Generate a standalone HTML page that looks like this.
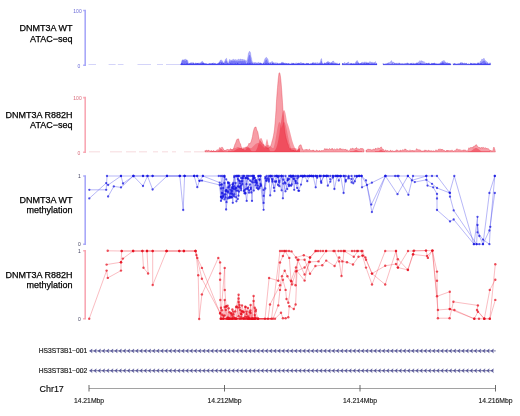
<!DOCTYPE html>
<html><head><meta charset="utf-8"><style>
html,body{margin:0;padding:0;background:#fff;}
svg{display:block;font-family:"Liberation Sans", sans-serif;filter:blur(0.4px);}
</style></head><body>
<svg width="520" height="416" viewBox="0 0 520 416">
<text x="72.5" y="31.1" text-anchor="end" font-size="9" fill="#000" stroke="#000" stroke-width="0.25">DNMT3A WT</text>
<text x="72.5" y="41.5" text-anchor="end" font-size="9" fill="#000" stroke="#000" stroke-width="0.25">ATAC−seq</text>
<text x="72.5" y="117.5" text-anchor="end" font-size="9" fill="#000" stroke="#000" stroke-width="0.25">DNMT3A R882H</text>
<text x="72.5" y="128.0" text-anchor="end" font-size="9" fill="#000" stroke="#000" stroke-width="0.25">ATAC−seq</text>
<text x="72.5" y="202.7" text-anchor="end" font-size="9" fill="#000" stroke="#000" stroke-width="0.25">DNMT3A WT</text>
<text x="72.5" y="212.8" text-anchor="end" font-size="9" fill="#000" stroke="#000" stroke-width="0.25">methylation</text>
<text x="72.5" y="277.8" text-anchor="end" font-size="9" fill="#000" stroke="#000" stroke-width="0.25">DNMT3A R882H</text>
<text x="72.5" y="288.3" text-anchor="end" font-size="9" fill="#000" stroke="#000" stroke-width="0.25">methylation</text>
<path d="M83.2,10.5 H85.2 V65.3 H83.2" stroke="#a8a8f8" stroke-width="1.6" fill="none"/>
<text x="81.7" y="13.1" text-anchor="end" font-size="5" fill="#6a6ad8">100</text>
<text x="80.2" y="67.89999999999999" text-anchor="end" font-size="5" fill="#6a6ad8">0</text>
<path d="M83.2,97.6 H85.2 V152.3 H83.2" stroke="#f8a8b4" stroke-width="1.6" fill="none"/>
<text x="81.7" y="100.19999999999999" text-anchor="end" font-size="5" fill="#d86a7a">100</text>
<text x="80.2" y="154.9" text-anchor="end" font-size="5" fill="#d86a7a">0</text>
<path d="M83.2,176 H85.2 V244.2 H83.2" stroke="#a8a8f8" stroke-width="1.6" fill="none"/>
<text x="80.9" y="177.8" text-anchor="end" font-size="5" fill="#404060">1</text>
<text x="80.9" y="246.0" text-anchor="end" font-size="5" fill="#404060">0</text>
<path d="M83.2,250.8 H85.2 V318.8 H83.2" stroke="#f8a8b4" stroke-width="1.6" fill="none"/>
<text x="80.9" y="252.60000000000002" text-anchor="end" font-size="5" fill="#404060">1</text>
<text x="80.9" y="320.6" text-anchor="end" font-size="5" fill="#404060">0</text>
<text x="87.3" y="353.2" text-anchor="end" font-size="6.7" fill="#222" stroke="#222" stroke-width="0.2">HS3ST3B1−001</text>
<line x1="89.6" y1="350.9" x2="495.8" y2="350.9" stroke="#404080" stroke-width="0.7"/>
<path d="M89.60,350.9 L92.20,349.0 L91.40,350.9 L92.20,352.79999999999995Z M93.78,350.9 L96.38,349.0 L95.58,350.9 L96.38,352.79999999999995Z M97.96,350.9 L100.56,349.0 L99.76,350.9 L100.56,352.79999999999995Z M102.14,350.9 L104.74,349.0 L103.94,350.9 L104.74,352.79999999999995Z M106.32,350.9 L108.92,349.0 L108.12,350.9 L108.92,352.79999999999995Z M110.50,350.9 L113.10,349.0 L112.30,350.9 L113.10,352.79999999999995Z M114.68,350.9 L117.28,349.0 L116.48,350.9 L117.28,352.79999999999995Z M118.86,350.9 L121.46,349.0 L120.66,350.9 L121.46,352.79999999999995Z M123.04,350.9 L125.64,349.0 L124.84,350.9 L125.64,352.79999999999995Z M127.22,350.9 L129.82,349.0 L129.02,350.9 L129.82,352.79999999999995Z M131.40,350.9 L134.00,349.0 L133.20,350.9 L134.00,352.79999999999995Z M135.58,350.9 L138.18,349.0 L137.38,350.9 L138.18,352.79999999999995Z M139.76,350.9 L142.36,349.0 L141.56,350.9 L142.36,352.79999999999995Z M143.94,350.9 L146.54,349.0 L145.74,350.9 L146.54,352.79999999999995Z M148.12,350.9 L150.72,349.0 L149.92,350.9 L150.72,352.79999999999995Z M152.30,350.9 L154.90,349.0 L154.10,350.9 L154.90,352.79999999999995Z M156.48,350.9 L159.08,349.0 L158.28,350.9 L159.08,352.79999999999995Z M160.66,350.9 L163.26,349.0 L162.46,350.9 L163.26,352.79999999999995Z M164.84,350.9 L167.44,349.0 L166.64,350.9 L167.44,352.79999999999995Z M169.02,350.9 L171.62,349.0 L170.82,350.9 L171.62,352.79999999999995Z M173.20,350.9 L175.80,349.0 L175.00,350.9 L175.80,352.79999999999995Z M177.38,350.9 L179.98,349.0 L179.18,350.9 L179.98,352.79999999999995Z M181.56,350.9 L184.16,349.0 L183.36,350.9 L184.16,352.79999999999995Z M185.74,350.9 L188.34,349.0 L187.54,350.9 L188.34,352.79999999999995Z M189.92,350.9 L192.52,349.0 L191.72,350.9 L192.52,352.79999999999995Z M194.10,350.9 L196.70,349.0 L195.90,350.9 L196.70,352.79999999999995Z M198.28,350.9 L200.88,349.0 L200.08,350.9 L200.88,352.79999999999995Z M202.46,350.9 L205.06,349.0 L204.26,350.9 L205.06,352.79999999999995Z M206.64,350.9 L209.24,349.0 L208.44,350.9 L209.24,352.79999999999995Z M210.82,350.9 L213.42,349.0 L212.62,350.9 L213.42,352.79999999999995Z M215.00,350.9 L217.60,349.0 L216.80,350.9 L217.60,352.79999999999995Z M219.18,350.9 L221.78,349.0 L220.98,350.9 L221.78,352.79999999999995Z M223.36,350.9 L225.96,349.0 L225.16,350.9 L225.96,352.79999999999995Z M227.54,350.9 L230.14,349.0 L229.34,350.9 L230.14,352.79999999999995Z M231.72,350.9 L234.32,349.0 L233.52,350.9 L234.32,352.79999999999995Z M235.90,350.9 L238.50,349.0 L237.70,350.9 L238.50,352.79999999999995Z M240.08,350.9 L242.68,349.0 L241.88,350.9 L242.68,352.79999999999995Z M244.26,350.9 L246.86,349.0 L246.06,350.9 L246.86,352.79999999999995Z M248.44,350.9 L251.04,349.0 L250.24,350.9 L251.04,352.79999999999995Z M252.62,350.9 L255.22,349.0 L254.42,350.9 L255.22,352.79999999999995Z M256.80,350.9 L259.40,349.0 L258.60,350.9 L259.40,352.79999999999995Z M260.98,350.9 L263.58,349.0 L262.78,350.9 L263.58,352.79999999999995Z M265.16,350.9 L267.76,349.0 L266.96,350.9 L267.76,352.79999999999995Z M269.34,350.9 L271.94,349.0 L271.14,350.9 L271.94,352.79999999999995Z M273.52,350.9 L276.12,349.0 L275.32,350.9 L276.12,352.79999999999995Z M277.70,350.9 L280.30,349.0 L279.50,350.9 L280.30,352.79999999999995Z M281.88,350.9 L284.48,349.0 L283.68,350.9 L284.48,352.79999999999995Z M286.06,350.9 L288.66,349.0 L287.86,350.9 L288.66,352.79999999999995Z M290.24,350.9 L292.84,349.0 L292.04,350.9 L292.84,352.79999999999995Z M294.42,350.9 L297.02,349.0 L296.22,350.9 L297.02,352.79999999999995Z M298.60,350.9 L301.20,349.0 L300.40,350.9 L301.20,352.79999999999995Z M302.78,350.9 L305.38,349.0 L304.58,350.9 L305.38,352.79999999999995Z M306.96,350.9 L309.56,349.0 L308.76,350.9 L309.56,352.79999999999995Z M311.14,350.9 L313.74,349.0 L312.94,350.9 L313.74,352.79999999999995Z M315.32,350.9 L317.92,349.0 L317.12,350.9 L317.92,352.79999999999995Z M319.50,350.9 L322.10,349.0 L321.30,350.9 L322.10,352.79999999999995Z M323.68,350.9 L326.28,349.0 L325.48,350.9 L326.28,352.79999999999995Z M327.86,350.9 L330.46,349.0 L329.66,350.9 L330.46,352.79999999999995Z M332.04,350.9 L334.64,349.0 L333.84,350.9 L334.64,352.79999999999995Z M336.22,350.9 L338.82,349.0 L338.02,350.9 L338.82,352.79999999999995Z M340.40,350.9 L343.00,349.0 L342.20,350.9 L343.00,352.79999999999995Z M344.58,350.9 L347.18,349.0 L346.38,350.9 L347.18,352.79999999999995Z M348.76,350.9 L351.36,349.0 L350.56,350.9 L351.36,352.79999999999995Z M352.94,350.9 L355.54,349.0 L354.74,350.9 L355.54,352.79999999999995Z M357.12,350.9 L359.72,349.0 L358.92,350.9 L359.72,352.79999999999995Z M361.30,350.9 L363.90,349.0 L363.10,350.9 L363.90,352.79999999999995Z M365.48,350.9 L368.08,349.0 L367.28,350.9 L368.08,352.79999999999995Z M369.66,350.9 L372.26,349.0 L371.46,350.9 L372.26,352.79999999999995Z M373.84,350.9 L376.44,349.0 L375.64,350.9 L376.44,352.79999999999995Z M378.02,350.9 L380.62,349.0 L379.82,350.9 L380.62,352.79999999999995Z M382.20,350.9 L384.80,349.0 L384.00,350.9 L384.80,352.79999999999995Z M386.38,350.9 L388.98,349.0 L388.18,350.9 L388.98,352.79999999999995Z M390.56,350.9 L393.16,349.0 L392.36,350.9 L393.16,352.79999999999995Z M394.74,350.9 L397.34,349.0 L396.54,350.9 L397.34,352.79999999999995Z M398.92,350.9 L401.52,349.0 L400.72,350.9 L401.52,352.79999999999995Z M403.10,350.9 L405.70,349.0 L404.90,350.9 L405.70,352.79999999999995Z M407.28,350.9 L409.88,349.0 L409.08,350.9 L409.88,352.79999999999995Z M411.46,350.9 L414.06,349.0 L413.26,350.9 L414.06,352.79999999999995Z M415.64,350.9 L418.24,349.0 L417.44,350.9 L418.24,352.79999999999995Z M419.82,350.9 L422.42,349.0 L421.62,350.9 L422.42,352.79999999999995Z M424.00,350.9 L426.60,349.0 L425.80,350.9 L426.60,352.79999999999995Z M428.18,350.9 L430.78,349.0 L429.98,350.9 L430.78,352.79999999999995Z M432.36,350.9 L434.96,349.0 L434.16,350.9 L434.96,352.79999999999995Z M436.54,350.9 L439.14,349.0 L438.34,350.9 L439.14,352.79999999999995Z M440.72,350.9 L443.32,349.0 L442.52,350.9 L443.32,352.79999999999995Z M444.90,350.9 L447.50,349.0 L446.70,350.9 L447.50,352.79999999999995Z M449.08,350.9 L451.68,349.0 L450.88,350.9 L451.68,352.79999999999995Z M453.26,350.9 L455.86,349.0 L455.06,350.9 L455.86,352.79999999999995Z M457.44,350.9 L460.04,349.0 L459.24,350.9 L460.04,352.79999999999995Z M461.62,350.9 L464.22,349.0 L463.42,350.9 L464.22,352.79999999999995Z M465.80,350.9 L468.40,349.0 L467.60,350.9 L468.40,352.79999999999995Z M469.98,350.9 L472.58,349.0 L471.78,350.9 L472.58,352.79999999999995Z M474.16,350.9 L476.76,349.0 L475.96,350.9 L476.76,352.79999999999995Z M478.34,350.9 L480.94,349.0 L480.14,350.9 L480.94,352.79999999999995Z M482.52,350.9 L485.12,349.0 L484.32,350.9 L485.12,352.79999999999995Z M486.70,350.9 L489.30,349.0 L488.50,350.9 L489.30,352.79999999999995Z M490.88,350.9 L493.48,349.0 L492.68,350.9 L493.48,352.79999999999995Z" stroke="#525294" stroke-width="0.4" fill="#525294"/>
<text x="87.3" y="373.0" text-anchor="end" font-size="6.7" fill="#222" stroke="#222" stroke-width="0.2">HS3ST3B1−002</text>
<line x1="89.6" y1="370.7" x2="493.5" y2="370.7" stroke="#404080" stroke-width="0.7"/>
<path d="M89.60,370.7 L92.20,368.8 L91.40,370.7 L92.20,372.59999999999997Z M93.78,370.7 L96.38,368.8 L95.58,370.7 L96.38,372.59999999999997Z M97.96,370.7 L100.56,368.8 L99.76,370.7 L100.56,372.59999999999997Z M102.14,370.7 L104.74,368.8 L103.94,370.7 L104.74,372.59999999999997Z M106.32,370.7 L108.92,368.8 L108.12,370.7 L108.92,372.59999999999997Z M110.50,370.7 L113.10,368.8 L112.30,370.7 L113.10,372.59999999999997Z M114.68,370.7 L117.28,368.8 L116.48,370.7 L117.28,372.59999999999997Z M118.86,370.7 L121.46,368.8 L120.66,370.7 L121.46,372.59999999999997Z M123.04,370.7 L125.64,368.8 L124.84,370.7 L125.64,372.59999999999997Z M127.22,370.7 L129.82,368.8 L129.02,370.7 L129.82,372.59999999999997Z M131.40,370.7 L134.00,368.8 L133.20,370.7 L134.00,372.59999999999997Z M135.58,370.7 L138.18,368.8 L137.38,370.7 L138.18,372.59999999999997Z M139.76,370.7 L142.36,368.8 L141.56,370.7 L142.36,372.59999999999997Z M143.94,370.7 L146.54,368.8 L145.74,370.7 L146.54,372.59999999999997Z M148.12,370.7 L150.72,368.8 L149.92,370.7 L150.72,372.59999999999997Z M152.30,370.7 L154.90,368.8 L154.10,370.7 L154.90,372.59999999999997Z M156.48,370.7 L159.08,368.8 L158.28,370.7 L159.08,372.59999999999997Z M160.66,370.7 L163.26,368.8 L162.46,370.7 L163.26,372.59999999999997Z M164.84,370.7 L167.44,368.8 L166.64,370.7 L167.44,372.59999999999997Z M169.02,370.7 L171.62,368.8 L170.82,370.7 L171.62,372.59999999999997Z M173.20,370.7 L175.80,368.8 L175.00,370.7 L175.80,372.59999999999997Z M177.38,370.7 L179.98,368.8 L179.18,370.7 L179.98,372.59999999999997Z M181.56,370.7 L184.16,368.8 L183.36,370.7 L184.16,372.59999999999997Z M185.74,370.7 L188.34,368.8 L187.54,370.7 L188.34,372.59999999999997Z M189.92,370.7 L192.52,368.8 L191.72,370.7 L192.52,372.59999999999997Z M194.10,370.7 L196.70,368.8 L195.90,370.7 L196.70,372.59999999999997Z M198.28,370.7 L200.88,368.8 L200.08,370.7 L200.88,372.59999999999997Z M202.46,370.7 L205.06,368.8 L204.26,370.7 L205.06,372.59999999999997Z M206.64,370.7 L209.24,368.8 L208.44,370.7 L209.24,372.59999999999997Z M210.82,370.7 L213.42,368.8 L212.62,370.7 L213.42,372.59999999999997Z M215.00,370.7 L217.60,368.8 L216.80,370.7 L217.60,372.59999999999997Z M219.18,370.7 L221.78,368.8 L220.98,370.7 L221.78,372.59999999999997Z M223.36,370.7 L225.96,368.8 L225.16,370.7 L225.96,372.59999999999997Z M227.54,370.7 L230.14,368.8 L229.34,370.7 L230.14,372.59999999999997Z M231.72,370.7 L234.32,368.8 L233.52,370.7 L234.32,372.59999999999997Z M235.90,370.7 L238.50,368.8 L237.70,370.7 L238.50,372.59999999999997Z M240.08,370.7 L242.68,368.8 L241.88,370.7 L242.68,372.59999999999997Z M244.26,370.7 L246.86,368.8 L246.06,370.7 L246.86,372.59999999999997Z M248.44,370.7 L251.04,368.8 L250.24,370.7 L251.04,372.59999999999997Z M252.62,370.7 L255.22,368.8 L254.42,370.7 L255.22,372.59999999999997Z M256.80,370.7 L259.40,368.8 L258.60,370.7 L259.40,372.59999999999997Z M260.98,370.7 L263.58,368.8 L262.78,370.7 L263.58,372.59999999999997Z M265.16,370.7 L267.76,368.8 L266.96,370.7 L267.76,372.59999999999997Z M269.34,370.7 L271.94,368.8 L271.14,370.7 L271.94,372.59999999999997Z M273.52,370.7 L276.12,368.8 L275.32,370.7 L276.12,372.59999999999997Z M277.70,370.7 L280.30,368.8 L279.50,370.7 L280.30,372.59999999999997Z M281.88,370.7 L284.48,368.8 L283.68,370.7 L284.48,372.59999999999997Z M286.06,370.7 L288.66,368.8 L287.86,370.7 L288.66,372.59999999999997Z M290.24,370.7 L292.84,368.8 L292.04,370.7 L292.84,372.59999999999997Z M294.42,370.7 L297.02,368.8 L296.22,370.7 L297.02,372.59999999999997Z M298.60,370.7 L301.20,368.8 L300.40,370.7 L301.20,372.59999999999997Z M302.78,370.7 L305.38,368.8 L304.58,370.7 L305.38,372.59999999999997Z M306.96,370.7 L309.56,368.8 L308.76,370.7 L309.56,372.59999999999997Z M311.14,370.7 L313.74,368.8 L312.94,370.7 L313.74,372.59999999999997Z M315.32,370.7 L317.92,368.8 L317.12,370.7 L317.92,372.59999999999997Z M319.50,370.7 L322.10,368.8 L321.30,370.7 L322.10,372.59999999999997Z M323.68,370.7 L326.28,368.8 L325.48,370.7 L326.28,372.59999999999997Z M327.86,370.7 L330.46,368.8 L329.66,370.7 L330.46,372.59999999999997Z M332.04,370.7 L334.64,368.8 L333.84,370.7 L334.64,372.59999999999997Z M336.22,370.7 L338.82,368.8 L338.02,370.7 L338.82,372.59999999999997Z M340.40,370.7 L343.00,368.8 L342.20,370.7 L343.00,372.59999999999997Z M344.58,370.7 L347.18,368.8 L346.38,370.7 L347.18,372.59999999999997Z M348.76,370.7 L351.36,368.8 L350.56,370.7 L351.36,372.59999999999997Z M352.94,370.7 L355.54,368.8 L354.74,370.7 L355.54,372.59999999999997Z M357.12,370.7 L359.72,368.8 L358.92,370.7 L359.72,372.59999999999997Z M361.30,370.7 L363.90,368.8 L363.10,370.7 L363.90,372.59999999999997Z M365.48,370.7 L368.08,368.8 L367.28,370.7 L368.08,372.59999999999997Z M369.66,370.7 L372.26,368.8 L371.46,370.7 L372.26,372.59999999999997Z M373.84,370.7 L376.44,368.8 L375.64,370.7 L376.44,372.59999999999997Z M378.02,370.7 L380.62,368.8 L379.82,370.7 L380.62,372.59999999999997Z M382.20,370.7 L384.80,368.8 L384.00,370.7 L384.80,372.59999999999997Z M386.38,370.7 L388.98,368.8 L388.18,370.7 L388.98,372.59999999999997Z M390.56,370.7 L393.16,368.8 L392.36,370.7 L393.16,372.59999999999997Z M394.74,370.7 L397.34,368.8 L396.54,370.7 L397.34,372.59999999999997Z M398.92,370.7 L401.52,368.8 L400.72,370.7 L401.52,372.59999999999997Z M403.10,370.7 L405.70,368.8 L404.90,370.7 L405.70,372.59999999999997Z M407.28,370.7 L409.88,368.8 L409.08,370.7 L409.88,372.59999999999997Z M411.46,370.7 L414.06,368.8 L413.26,370.7 L414.06,372.59999999999997Z M415.64,370.7 L418.24,368.8 L417.44,370.7 L418.24,372.59999999999997Z M419.82,370.7 L422.42,368.8 L421.62,370.7 L422.42,372.59999999999997Z M424.00,370.7 L426.60,368.8 L425.80,370.7 L426.60,372.59999999999997Z M428.18,370.7 L430.78,368.8 L429.98,370.7 L430.78,372.59999999999997Z M432.36,370.7 L434.96,368.8 L434.16,370.7 L434.96,372.59999999999997Z M436.54,370.7 L439.14,368.8 L438.34,370.7 L439.14,372.59999999999997Z M440.72,370.7 L443.32,368.8 L442.52,370.7 L443.32,372.59999999999997Z M444.90,370.7 L447.50,368.8 L446.70,370.7 L447.50,372.59999999999997Z M449.08,370.7 L451.68,368.8 L450.88,370.7 L451.68,372.59999999999997Z M453.26,370.7 L455.86,368.8 L455.06,370.7 L455.86,372.59999999999997Z M457.44,370.7 L460.04,368.8 L459.24,370.7 L460.04,372.59999999999997Z M461.62,370.7 L464.22,368.8 L463.42,370.7 L464.22,372.59999999999997Z M465.80,370.7 L468.40,368.8 L467.60,370.7 L468.40,372.59999999999997Z M469.98,370.7 L472.58,368.8 L471.78,370.7 L472.58,372.59999999999997Z M474.16,370.7 L476.76,368.8 L475.96,370.7 L476.76,372.59999999999997Z M478.34,370.7 L480.94,368.8 L480.14,370.7 L480.94,372.59999999999997Z M482.52,370.7 L485.12,368.8 L484.32,370.7 L485.12,372.59999999999997Z M486.70,370.7 L489.30,368.8 L488.50,370.7 L489.30,372.59999999999997Z M490.88,370.7 L493.48,368.8 L492.68,370.7 L493.48,372.59999999999997Z" stroke="#525294" stroke-width="0.4" fill="#525294"/>
<text x="39.6" y="391.6" font-size="9.6" textLength="24.2" lengthAdjust="spacingAndGlyphs" fill="#111" stroke="#111" stroke-width="0.2">Chr17</text>
<line x1="89" y1="388.5" x2="495.5" y2="388.5" stroke="#8a8a8a" stroke-width="0.8"/>
<line x1="89" y1="385" x2="89" y2="391.5" stroke="#505050" stroke-width="0.85"/>
<text x="89" y="403.2" text-anchor="middle" font-size="6.8" fill="#222" stroke="#222" stroke-width="0.15">14.21Mbp</text>
<line x1="224.5" y1="385" x2="224.5" y2="391.5" stroke="#505050" stroke-width="0.85"/>
<text x="224.5" y="403.2" text-anchor="middle" font-size="6.8" fill="#222" stroke="#222" stroke-width="0.15">14.212Mbp</text>
<line x1="360" y1="385" x2="360" y2="391.5" stroke="#505050" stroke-width="0.85"/>
<text x="360" y="403.2" text-anchor="middle" font-size="6.8" fill="#222" stroke="#222" stroke-width="0.15">14.214Mbp</text>
<line x1="495.5" y1="385" x2="495.5" y2="391.5" stroke="#505050" stroke-width="0.85"/>
<text x="495.5" y="403.2" text-anchor="middle" font-size="6.8" fill="#222" stroke="#222" stroke-width="0.15">14.216Mbp</text>
<path d="M88.5,65.10 L88.5,64.30 L89.0,64.30 L89.5,64.30 L90.0,64.30 L90.5,64.30 L91.0,64.30 L91.5,64.30 L92.0,64.30 L92.5,64.30 L93.0,64.30 L93.5,64.30 L94.0,64.30 L94.5,64.30 L95.0,64.30 L95.5,64.30 L96.0,64.30 L96.0,65.10Z M108.6,65.10 L108.6,64.30 L109.1,64.30 L109.6,64.30 L110.1,64.30 L110.6,64.30 L111.1,64.30 L111.6,64.30 L112.1,64.30 L112.6,64.30 L113.1,64.30 L113.6,64.30 L114.1,64.30 L114.6,64.30 L115.1,64.30 L115.6,64.30 L115.6,65.10Z M117.9,65.10 L117.9,64.30 L118.4,64.30 L118.9,64.30 L119.4,64.30 L119.9,64.30 L120.4,64.30 L120.9,64.30 L121.4,64.30 L121.9,64.30 L122.4,64.30 L122.9,64.30 L123.4,64.30 L123.6,65.10Z M137.5,65.10 L137.5,64.30 L138.0,64.30 L138.5,64.30 L139.0,64.30 L139.5,64.30 L140.0,64.30 L140.5,64.30 L141.0,64.30 L141.5,64.30 L142.0,64.30 L142.5,64.30 L143.0,64.30 L143.5,64.30 L144.0,64.30 L144.5,64.30 L145.0,64.30 L145.5,64.30 L146.0,64.30 L146.5,64.30 L147.0,64.30 L147.5,64.30 L148.0,64.30 L148.5,64.30 L149.0,64.30 L149.5,64.30 L150.0,64.30 L150.5,64.30 L151.0,64.30 L151.0,65.10Z M157.0,65.10 L157.0,64.30 L157.5,64.30 L158.0,64.30 L158.5,64.30 L159.0,64.30 L159.5,64.30 L160.0,64.30 L160.5,64.30 L161.0,64.30 L161.5,64.30 L162.0,64.30 L162.5,64.30 L163.0,64.30 L163.0,65.10Z M166.0,65.10 L166.0,64.30 L166.5,64.30 L167.0,64.30 L167.5,64.30 L168.0,64.30 L168.5,64.30 L169.0,64.30 L169.5,64.30 L170.0,64.30 L170.5,64.30 L171.0,64.30 L171.5,64.30 L172.0,64.30 L172.5,64.30 L173.0,64.30 L173.5,64.30 L174.0,64.30 L174.5,64.30 L175.0,64.30 L175.5,64.30 L176.0,64.30 L176.5,64.30 L177.0,64.30 L177.5,64.30 L178.0,64.30 L178.5,64.30 L179.0,64.30 L179.5,64.30 L180.0,64.30 L180.5,64.30 L181.0,64.30 L181.0,65.10Z" fill="rgb(120,120,235)" fill-opacity="0.42"/>
<path d="M181.0,64.90 L181.0,64.04 L181.5,62.73 L182.0,60.25 L182.5,60.20 L183.0,59.38 L183.5,60.20 L184.0,60.07 L184.5,59.55 L185.0,59.84 L185.5,58.89 L186.0,59.92 L186.5,60.02 L187.0,59.70 L187.5,60.22 L188.0,61.49 L188.5,64.07 L189.0,63.93 L189.5,63.31 L190.0,63.90 L190.5,63.14 L191.0,62.61 L191.5,63.53 L192.0,62.27 L192.5,63.27 L193.0,62.81 L193.5,63.49 L194.0,63.68 L194.5,63.94 L195.0,64.17 L195.5,64.23 L196.0,62.73 L196.5,63.84 L197.0,63.96 L197.5,63.00 L198.0,63.71 L198.5,62.77 L199.0,64.10 L199.5,64.23 L200.0,62.64 L200.5,63.52 L201.0,62.14 L201.5,62.25 L202.0,61.15 L202.5,61.39 L203.0,62.44 L203.5,63.56 L204.0,63.99 L204.5,63.94 L205.0,63.23 L205.5,64.29 L206.0,64.01 L206.5,64.29 L207.0,64.15 L207.5,64.30 L208.0,64.13 L208.5,63.86 L209.0,64.23 L209.5,63.20 L210.0,64.09 L210.5,63.95 L211.0,63.85 L211.5,63.65 L212.0,62.97 L212.5,63.71 L213.0,63.18 L213.5,62.66 L214.0,64.07 L214.5,63.00 L215.0,63.72 L215.5,63.41 L216.0,63.71 L216.5,64.03 L217.0,64.29 L217.5,64.00 L218.0,63.55 L218.5,63.02 L219.0,62.44 L219.5,61.81 L220.0,60.87 L220.5,60.07 L221.0,59.88 L221.5,59.88 L222.0,61.35 L222.5,60.80 L223.0,62.42 L223.5,63.06 L224.0,63.27 L224.5,61.60 L225.0,60.66 L225.5,59.32 L226.0,58.65 L226.5,58.32 L227.0,60.40 L227.5,61.88 L228.0,63.18 L228.5,63.43 L229.0,60.93 L229.5,59.57 L230.0,59.57 L230.5,60.15 L231.0,60.08 L231.5,60.24 L232.0,59.71 L232.5,59.72 L233.0,60.25 L233.5,59.18 L234.0,59.57 L234.5,60.32 L235.0,59.35 L235.5,59.67 L236.0,60.30 L236.5,60.26 L237.0,59.50 L237.5,60.39 L238.0,60.09 L238.5,58.91 L239.0,60.29 L239.5,59.99 L240.0,59.08 L240.5,59.18 L241.0,59.41 L241.5,59.95 L242.0,59.02 L242.5,60.29 L243.0,59.16 L243.5,60.13 L244.0,59.71 L244.5,59.80 L245.0,60.27 L245.5,60.19 L246.0,61.59 L246.5,61.10 L247.0,60.35 L247.5,58.64 L248.0,56.29 L248.5,52.95 L249.0,52.33 L249.5,51.19 L250.0,51.75 L250.5,52.72 L251.0,56.46 L251.5,58.24 L252.0,61.02 L252.5,62.00 L253.0,63.02 L253.5,63.00 L254.0,62.49 L254.5,63.40 L255.0,62.11 L255.5,62.94 L256.0,62.75 L256.5,62.91 L257.0,62.45 L257.5,62.93 L258.0,62.85 L258.5,62.41 L259.0,62.40 L259.5,63.44 L260.0,62.70 L260.5,63.57 L261.0,64.01 L261.5,63.35 L262.0,63.43 L262.5,63.95 L263.0,63.55 L263.5,62.66 L264.0,61.59 L264.5,59.98 L265.0,58.56 L265.5,58.22 L266.0,57.53 L266.5,57.44 L267.0,57.93 L267.5,58.70 L268.0,59.16 L268.5,61.71 L269.0,62.88 L269.5,63.29 L270.0,62.13 L270.5,62.79 L271.0,63.00 L271.5,62.04 L272.0,61.24 L272.5,61.72 L273.0,62.45 L273.5,62.68 L274.0,62.48 L274.5,62.93 L275.0,63.11 L275.5,63.03 L276.0,62.41 L276.5,63.00 L277.0,63.72 L277.5,62.73 L278.0,64.25 L278.5,64.20 L279.0,64.18 L279.5,63.78 L280.0,62.98 L280.5,63.86 L281.0,62.84 L281.5,62.36 L282.0,63.25 L282.5,62.21 L283.0,62.12 L283.5,62.96 L284.0,63.25 L284.5,63.31 L285.0,63.29 L285.5,63.15 L286.0,63.62 L286.5,63.60 L287.0,63.54 L287.5,63.91 L288.0,63.38 L288.5,63.78 L289.0,63.85 L289.5,63.66 L290.0,63.76 L290.5,64.03 L291.0,64.26 L291.5,63.75 L292.0,64.30 L292.5,64.30 L293.0,64.11 L293.5,64.22 L294.0,63.39 L294.5,64.26 L295.0,63.80 L295.5,62.98 L296.0,63.32 L296.5,62.72 L297.0,64.09 L297.5,64.12 L298.0,63.81 L298.5,63.48 L299.0,62.99 L299.5,63.29 L300.0,62.80 L300.5,62.56 L301.0,62.81 L301.5,62.63 L302.0,63.92 L302.5,63.43 L303.0,63.46 L303.5,63.21 L304.0,64.26 L304.5,64.29 L305.0,63.38 L305.5,63.63 L306.0,64.26 L306.5,63.09 L307.0,63.48 L307.5,63.69 L308.0,63.37 L308.5,63.70 L309.0,64.11 L309.5,64.30 L310.0,64.03 L310.5,63.48 L311.0,63.93 L311.5,63.83 L312.0,63.75 L312.5,63.27 L313.0,62.08 L313.5,62.65 L314.0,63.45 L314.5,63.18 L315.0,62.66 L315.5,63.40 L316.0,62.44 L316.5,63.41 L317.0,63.26 L317.5,62.66 L318.0,62.54 L318.5,63.87 L319.0,62.92 L319.5,62.88 L320.0,63.09 L320.5,61.27 L321.0,58.94 L321.5,58.59 L322.0,61.61 L322.5,63.77 L323.0,64.16 L323.5,64.26 L324.0,62.88 L324.5,63.01 L325.0,62.88 L325.5,63.39 L326.0,63.06 L326.5,62.34 L327.0,62.24 L327.5,61.79 L328.0,61.31 L328.5,61.83 L329.0,62.07 L329.5,62.46 L330.0,61.98 L330.5,63.52 L331.0,62.61 L331.5,62.48 L332.0,62.02 L332.5,61.29 L333.0,61.90 L333.5,60.87 L334.0,62.36 L334.5,62.82 L335.0,63.25 L335.5,62.85 L336.0,64.22 L336.5,63.86 L337.0,62.73 L337.5,64.23 L338.0,63.63 L338.5,64.26 L339.0,63.79 L339.5,64.00 L340.0,63.79 L340.0,64.90Z M342.0,64.90 L342.0,64.30 L342.5,64.23 L343.0,62.99 L343.5,64.09 L344.0,63.85 L344.5,62.27 L345.0,63.60 L345.5,63.04 L346.0,63.18 L346.5,63.42 L347.0,62.74 L347.5,63.02 L348.0,62.08 L348.5,62.05 L349.0,63.69 L349.5,63.29 L350.0,63.80 L350.5,64.11 L351.0,62.94 L351.5,64.29 L352.0,63.90 L352.5,64.21 L353.0,63.77 L353.5,64.23 L354.0,63.13 L354.5,64.00 L355.0,63.96 L355.5,62.27 L356.0,62.40 L356.5,60.82 L357.0,61.30 L357.5,60.56 L358.0,62.32 L358.5,62.62 L359.0,63.30 L359.5,63.89 L360.0,63.09 L360.5,63.71 L361.0,63.48 L361.5,62.52 L362.0,61.94 L362.5,62.42 L363.0,62.26 L363.5,62.69 L364.0,62.60 L364.5,61.76 L365.0,62.52 L365.5,62.64 L366.0,61.69 L366.5,62.70 L367.0,62.70 L367.5,62.69 L368.0,62.64 L368.5,62.70 L369.0,62.56 L369.5,62.58 L370.0,61.34 L370.5,62.60 L371.0,62.17 L371.5,62.56 L372.0,61.86 L372.5,62.68 L373.0,62.51 L373.5,62.67 L374.0,62.55 L374.5,62.59 L375.0,62.37 L375.5,61.53 L376.0,63.56 L376.5,64.10 L377.0,63.71 L377.0,64.90Z M383.0,64.90 L383.0,63.18 L383.5,64.07 L384.0,64.09 L384.5,64.14 L385.0,64.07 L385.5,63.84 L386.0,63.33 L386.5,64.30 L387.0,64.25 L387.5,64.17 L388.0,63.31 L388.5,62.60 L389.0,63.07 L389.5,62.64 L390.0,62.23 L390.5,61.69 L391.0,61.13 L391.5,60.48 L392.0,62.03 L392.5,62.35 L393.0,61.85 L393.5,62.58 L394.0,62.62 L394.5,64.14 L395.0,63.49 L395.5,63.25 L396.0,64.17 L396.5,64.12 L397.0,62.76 L397.5,64.00 L398.0,63.85 L398.5,63.95 L399.0,62.70 L399.5,63.29 L400.0,63.81 L400.5,63.59 L401.0,63.61 L401.5,63.97 L402.0,63.13 L402.5,64.07 L403.0,63.91 L403.5,63.35 L404.0,64.17 L404.5,63.36 L405.0,63.00 L405.5,63.51 L406.0,64.01 L406.5,62.92 L407.0,64.14 L407.5,62.71 L408.0,63.71 L408.5,63.84 L409.0,63.08 L409.5,64.28 L410.0,64.17 L410.5,63.34 L411.0,64.29 L411.5,62.93 L412.0,63.97 L412.5,63.92 L413.0,62.71 L413.5,64.29 L414.0,64.30 L414.5,63.79 L415.0,63.66 L415.5,63.11 L416.0,64.09 L416.5,62.68 L417.0,62.97 L417.5,62.85 L418.0,63.08 L418.5,61.76 L419.0,62.42 L419.5,61.54 L420.0,60.48 L420.5,61.94 L421.0,61.60 L421.5,60.53 L422.0,61.93 L422.5,61.13 L423.0,61.42 L423.5,62.02 L424.0,61.49 L424.5,62.58 L425.0,63.65 L425.5,62.79 L426.0,63.25 L426.5,64.06 L427.0,64.29 L427.5,64.18 L428.0,63.86 L428.5,64.20 L429.0,62.74 L429.5,64.26 L430.0,64.18 L430.5,64.28 L431.0,63.40 L431.5,63.20 L432.0,64.20 L432.5,64.06 L433.0,63.04 L433.5,63.73 L434.0,64.22 L434.5,62.71 L435.0,63.35 L435.5,64.15 L436.0,63.98 L436.5,63.90 L437.0,63.66 L437.5,63.96 L438.0,64.26 L438.5,64.13 L439.0,64.23 L439.5,63.58 L440.0,63.06 L440.5,62.70 L441.0,62.85 L441.5,61.95 L442.0,61.07 L442.5,61.20 L443.0,61.32 L443.5,60.42 L444.0,61.19 L444.5,60.61 L445.0,61.91 L445.5,62.27 L446.0,62.36 L446.5,63.10 L447.0,63.45 L447.5,62.47 L448.0,63.19 L448.5,64.16 L449.0,64.28 L449.5,63.44 L450.0,63.50 L450.5,64.25 L451.0,63.81 L451.0,64.90Z M453.0,64.90 L453.0,63.64 L453.5,64.29 L454.0,64.28 L454.5,64.30 L455.0,63.17 L455.5,64.09 L456.0,63.99 L456.5,64.11 L457.0,63.39 L457.5,63.92 L458.0,63.51 L458.5,63.75 L459.0,63.73 L459.5,63.90 L460.0,63.73 L460.5,62.57 L461.0,62.50 L461.5,62.61 L462.0,62.82 L462.5,62.97 L463.0,63.43 L463.5,63.53 L464.0,63.35 L464.5,62.76 L465.0,63.71 L465.5,63.80 L466.0,63.45 L466.5,63.16 L467.0,63.84 L467.5,64.30 L468.0,63.71 L468.5,64.11 L469.0,64.27 L469.5,64.30 L470.0,63.84 L470.5,62.84 L471.0,63.80 L471.5,63.19 L472.0,64.25 L472.5,64.13 L473.0,62.84 L473.5,63.54 L474.0,63.46 L474.5,64.16 L475.0,63.59 L475.5,64.11 L476.0,64.24 L476.5,64.26 L477.0,64.25 L477.5,64.29 L478.0,64.06 L478.5,63.01 L479.0,63.41 L479.5,63.24 L480.0,62.29 L480.5,60.99 L481.0,61.59 L481.5,59.69 L482.0,58.88 L482.5,59.71 L483.0,59.55 L483.5,58.66 L484.0,58.12 L484.5,59.53 L485.0,60.04 L485.5,60.69 L486.0,61.41 L486.5,61.39 L487.0,62.58 L487.5,61.88 L488.0,63.47 L488.5,64.07 L489.0,63.59 L489.5,62.76 L490.0,64.27 L490.5,62.79 L490.6,64.90Z" fill="rgb(40,40,240)" fill-opacity="0.36" stroke="rgb(60,60,230)" stroke-opacity="0.35" stroke-width="0.6"/>
<path d="M181.0,64.90 L181.0,63.40 L181.5,63.16 L182.0,62.67 L182.5,63.62 L183.0,63.64 L183.5,64.07 L184.0,63.83 L184.5,63.61 L185.0,63.99 L185.5,63.80 L186.0,63.86 L186.5,62.98 L187.0,63.91 L187.5,62.81 L188.0,64.02 L188.5,63.42 L189.0,63.70 L189.5,63.95 L190.0,63.13 L190.5,62.54 L191.0,64.07 L191.5,63.05 L192.0,64.09 L192.5,63.90 L193.0,62.63 L193.5,62.61 L194.0,62.73 L194.5,63.90 L195.0,63.22 L195.5,62.57 L196.0,64.09 L196.5,63.00 L197.0,63.26 L197.5,62.71 L198.0,63.77 L198.5,63.44 L199.0,63.17 L199.5,63.71 L200.0,63.27 L200.5,64.02 L201.0,64.10 L201.5,64.02 L202.0,62.55 L202.5,63.80 L203.0,62.84 L203.5,62.59 L204.0,62.76 L204.5,63.62 L205.0,63.97 L205.5,63.51 L206.0,63.15 L206.5,63.27 L207.0,64.10 L207.5,64.09 L208.0,64.10 L208.5,64.00 L209.0,63.85 L209.5,63.88 L210.0,63.18 L210.5,63.17 L211.0,63.97 L211.5,63.91 L212.0,62.83 L212.5,63.34 L213.0,64.10 L213.5,63.93 L214.0,63.02 L214.5,63.64 L215.0,64.04 L215.5,63.82 L216.0,63.37 L216.5,64.05 L217.0,64.00 L217.5,62.97 L218.0,63.86 L218.5,63.83 L219.0,62.53 L219.5,62.63 L220.0,63.95 L220.5,64.10 L221.0,64.05 L221.5,62.58 L222.0,63.31 L222.5,64.01 L223.0,62.79 L223.5,62.87 L224.0,63.29 L224.5,64.10 L225.0,63.65 L225.5,64.02 L226.0,64.00 L226.5,63.85 L227.0,63.84 L227.5,62.85 L228.0,63.88 L228.5,64.06 L229.0,64.06 L229.5,63.76 L230.0,63.98 L230.5,62.97 L231.0,63.47 L231.5,63.24 L232.0,64.05 L232.5,63.59 L233.0,63.34 L233.5,64.10 L234.0,63.85 L234.5,63.39 L235.0,64.06 L235.5,62.63 L236.0,64.03 L236.5,64.08 L237.0,63.34 L237.5,62.55 L238.0,63.14 L238.5,63.65 L239.0,63.93 L239.5,64.03 L240.0,64.09 L240.5,64.02 L241.0,63.47 L241.5,64.00 L242.0,62.54 L242.5,64.06 L243.0,64.00 L243.5,63.83 L244.0,62.64 L244.5,63.91 L245.0,64.05 L245.5,63.26 L246.0,64.09 L246.5,63.75 L247.0,64.03 L247.5,62.58 L248.0,63.79 L248.5,63.69 L249.0,62.64 L249.5,63.42 L250.0,62.52 L250.5,63.81 L251.0,62.88 L251.5,63.80 L252.0,63.98 L252.5,62.62 L253.0,63.48 L253.5,64.07 L254.0,63.58 L254.5,63.34 L255.0,64.07 L255.5,63.73 L256.0,63.78 L256.5,64.05 L257.0,63.35 L257.5,63.72 L258.0,63.53 L258.5,63.64 L259.0,63.50 L259.5,63.13 L260.0,63.73 L260.5,62.61 L261.0,62.80 L261.5,63.77 L262.0,64.08 L262.5,63.72 L263.0,63.87 L263.5,62.84 L264.0,63.94 L264.5,64.09 L265.0,64.04 L265.5,62.87 L266.0,64.08 L266.5,62.78 L267.0,63.80 L267.5,63.63 L268.0,63.19 L268.5,62.90 L269.0,64.08 L269.5,63.55 L270.0,64.04 L270.5,62.64 L271.0,63.15 L271.5,64.00 L272.0,63.91 L272.5,62.58 L273.0,62.63 L273.5,63.16 L274.0,64.10 L274.5,64.02 L275.0,63.52 L275.5,64.03 L276.0,63.67 L276.5,64.10 L277.0,63.76 L277.5,63.74 L278.0,63.00 L278.5,63.91 L279.0,62.80 L279.5,64.00 L280.0,64.10 L280.5,63.77 L281.0,64.06 L281.5,62.64 L282.0,63.02 L282.5,62.70 L283.0,64.03 L283.5,62.88 L284.0,62.76 L284.5,63.97 L285.0,63.04 L285.5,63.88 L286.0,64.04 L286.5,63.37 L287.0,63.92 L287.5,63.95 L288.0,63.44 L288.5,63.43 L289.0,64.10 L289.5,64.10 L290.0,63.64 L290.5,64.09 L291.0,64.08 L291.5,62.70 L292.0,62.65 L292.5,63.29 L293.0,62.73 L293.5,63.34 L294.0,62.73 L294.5,64.10 L295.0,63.88 L295.5,63.89 L296.0,63.92 L296.5,63.98 L297.0,63.94 L297.5,63.22 L298.0,62.66 L298.5,62.74 L299.0,63.86 L299.5,63.52 L300.0,64.01 L300.5,63.95 L301.0,62.77 L301.5,63.64 L302.0,64.09 L302.5,63.73 L303.0,63.10 L303.5,63.36 L304.0,64.08 L304.5,63.86 L305.0,63.94 L305.5,64.02 L306.0,64.00 L306.5,62.98 L307.0,63.61 L307.5,63.07 L308.0,63.85 L308.5,62.97 L309.0,64.10 L309.5,63.91 L310.0,64.04 L310.5,63.98 L311.0,63.24 L311.5,64.05 L312.0,62.87 L312.5,63.56 L313.0,62.87 L313.5,64.10 L314.0,64.09 L314.5,64.10 L315.0,62.54 L315.5,63.75 L316.0,64.09 L316.5,63.97 L317.0,63.90 L317.5,63.99 L318.0,63.94 L318.5,64.01 L319.0,64.00 L319.5,63.80 L320.0,64.08 L320.5,63.53 L321.0,63.06 L321.5,64.05 L322.0,63.45 L322.5,63.35 L323.0,63.94 L323.5,63.86 L324.0,64.07 L324.5,63.49 L325.0,62.57 L325.5,63.13 L326.0,64.03 L326.5,63.81 L327.0,63.68 L327.5,63.97 L328.0,62.62 L328.5,62.87 L329.0,63.78 L329.5,64.02 L330.0,63.19 L330.5,63.67 L331.0,63.28 L331.5,62.88 L332.0,62.59 L332.5,63.11 L333.0,64.03 L333.5,63.61 L334.0,63.28 L334.5,64.05 L335.0,62.53 L335.5,63.98 L336.0,62.95 L336.5,64.10 L337.0,64.09 L337.5,64.10 L338.0,64.09 L338.5,64.09 L339.0,64.09 L339.5,63.26 L340.0,62.74 L340.0,64.90Z M342.0,64.90 L342.0,63.08 L342.5,63.03 L343.0,63.13 L343.5,64.05 L344.0,63.86 L344.5,64.10 L345.0,64.05 L345.5,64.04 L346.0,63.76 L346.5,62.74 L347.0,63.90 L347.5,63.34 L348.0,63.40 L348.5,63.95 L349.0,64.10 L349.5,64.03 L350.0,64.04 L350.5,63.68 L351.0,63.94 L351.5,63.42 L352.0,63.50 L352.5,64.08 L353.0,62.92 L353.5,63.82 L354.0,64.03 L354.5,64.10 L355.0,63.73 L355.5,64.08 L356.0,63.19 L356.5,64.03 L357.0,64.05 L357.5,63.81 L358.0,64.09 L358.5,62.78 L359.0,62.93 L359.5,64.09 L360.0,64.01 L360.5,62.99 L361.0,63.16 L361.5,63.64 L362.0,63.37 L362.5,63.79 L363.0,63.51 L363.5,63.49 L364.0,63.21 L364.5,62.59 L365.0,63.67 L365.5,64.07 L366.0,63.15 L366.5,62.58 L367.0,63.64 L367.5,62.70 L368.0,63.20 L368.5,63.20 L369.0,63.09 L369.5,63.51 L370.0,64.08 L370.5,64.07 L371.0,62.89 L371.5,63.44 L372.0,64.05 L372.5,64.01 L373.0,62.88 L373.5,64.07 L374.0,63.55 L374.5,63.17 L375.0,63.96 L375.5,64.10 L376.0,63.86 L376.5,63.38 L377.0,62.87 L377.0,64.90Z M383.0,64.90 L383.0,63.53 L383.5,64.09 L384.0,64.04 L384.5,63.69 L385.0,64.00 L385.5,64.07 L386.0,64.06 L386.5,63.13 L387.0,63.91 L387.5,62.94 L388.0,62.64 L388.5,63.91 L389.0,63.37 L389.5,64.03 L390.0,63.98 L390.5,64.02 L391.0,63.69 L391.5,64.08 L392.0,63.06 L392.5,63.32 L393.0,64.07 L393.5,63.98 L394.0,63.99 L394.5,62.67 L395.0,62.80 L395.5,64.03 L396.0,63.48 L396.5,63.20 L397.0,63.66 L397.5,63.97 L398.0,62.94 L398.5,64.10 L399.0,62.70 L399.5,63.19 L400.0,63.48 L400.5,63.98 L401.0,64.09 L401.5,63.86 L402.0,63.68 L402.5,63.57 L403.0,64.05 L403.5,63.88 L404.0,64.06 L404.5,64.10 L405.0,63.68 L405.5,63.73 L406.0,63.51 L406.5,63.80 L407.0,63.39 L407.5,62.68 L408.0,63.85 L408.5,63.55 L409.0,63.67 L409.5,63.72 L410.0,64.10 L410.5,64.09 L411.0,63.56 L411.5,63.55 L412.0,63.88 L412.5,63.91 L413.0,64.08 L413.5,63.37 L414.0,63.44 L414.5,64.08 L415.0,64.06 L415.5,64.00 L416.0,63.97 L416.5,63.59 L417.0,63.08 L417.5,63.59 L418.0,63.10 L418.5,63.95 L419.0,63.87 L419.5,63.38 L420.0,62.97 L420.5,62.76 L421.0,63.27 L421.5,64.05 L422.0,63.54 L422.5,64.09 L423.0,64.05 L423.5,63.79 L424.0,63.48 L424.5,64.03 L425.0,63.81 L425.5,63.96 L426.0,64.08 L426.5,62.83 L427.0,63.00 L427.5,63.11 L428.0,64.07 L428.5,63.01 L429.0,62.72 L429.5,64.09 L430.0,64.00 L430.5,63.96 L431.0,64.04 L431.5,63.60 L432.0,63.24 L432.5,63.55 L433.0,62.81 L433.5,63.52 L434.0,63.24 L434.5,63.78 L435.0,63.22 L435.5,64.07 L436.0,63.76 L436.5,64.00 L437.0,63.88 L437.5,63.87 L438.0,64.09 L438.5,63.68 L439.0,64.03 L439.5,63.67 L440.0,63.64 L440.5,63.79 L441.0,62.87 L441.5,63.65 L442.0,63.37 L442.5,62.70 L443.0,63.79 L443.5,62.91 L444.0,63.83 L444.5,64.10 L445.0,64.02 L445.5,64.00 L446.0,63.43 L446.5,64.05 L447.0,63.43 L447.5,63.94 L448.0,63.42 L448.5,62.78 L449.0,63.41 L449.5,63.32 L450.0,63.55 L450.5,63.58 L451.0,63.73 L451.0,64.90Z M453.0,64.90 L453.0,63.19 L453.5,63.83 L454.0,63.84 L454.5,63.06 L455.0,63.21 L455.5,64.10 L456.0,63.94 L456.5,63.94 L457.0,63.98 L457.5,64.08 L458.0,63.74 L458.5,63.76 L459.0,63.48 L459.5,63.86 L460.0,63.11 L460.5,63.22 L461.0,62.71 L461.5,64.10 L462.0,63.01 L462.5,62.60 L463.0,63.68 L463.5,63.66 L464.0,62.78 L464.5,63.94 L465.0,63.02 L465.5,63.76 L466.0,62.94 L466.5,63.23 L467.0,63.74 L467.5,64.06 L468.0,63.97 L468.5,63.46 L469.0,63.93 L469.5,64.04 L470.0,63.98 L470.5,63.73 L471.0,63.56 L471.5,63.25 L472.0,64.10 L472.5,63.53 L473.0,64.09 L473.5,63.65 L474.0,64.02 L474.5,63.28 L475.0,63.74 L475.5,64.08 L476.0,63.70 L476.5,63.77 L477.0,63.29 L477.5,62.81 L478.0,62.50 L478.5,62.60 L479.0,64.09 L479.5,63.65 L480.0,63.85 L480.5,63.04 L481.0,64.00 L481.5,62.75 L482.0,64.07 L482.5,64.07 L483.0,63.99 L483.5,63.91 L484.0,63.05 L484.5,63.87 L485.0,63.59 L485.5,62.93 L486.0,64.09 L486.5,63.70 L487.0,63.45 L487.5,63.27 L488.0,64.10 L488.5,63.88 L489.0,63.43 L489.5,64.07 L490.0,64.10 L490.5,63.09 L490.6,64.90Z" fill="rgb(30,30,230)" fill-opacity="0.55"/>
<path d="M180.0,64.90 L180.0,63.88 L180.5,63.64 L181.0,63.78 L181.5,62.28 L182.0,60.19 L182.5,60.29 L183.0,60.38 L183.5,60.19 L184.0,60.14 L184.5,60.31 L185.0,60.90 L185.5,60.57 L186.0,60.87 L186.5,60.09 L187.0,60.32 L187.5,61.82 L188.0,63.60 L188.5,63.74 L189.0,63.79 L189.5,63.02 L190.0,63.11 L190.5,63.88 L191.0,63.89 L191.5,63.47 L192.0,63.82 L192.5,63.62 L193.0,63.52 L193.5,63.71 L194.0,63.89 L194.5,63.65 L195.0,63.08 L195.5,63.69 L196.0,63.88 L196.5,63.88 L197.0,62.97 L197.5,63.43 L198.0,63.79 L198.5,63.64 L199.0,63.12 L199.5,63.72 L200.0,63.85 L200.5,62.99 L201.0,62.95 L201.5,62.77 L202.0,62.87 L202.5,62.60 L203.0,63.00 L203.5,63.61 L204.0,62.90 L204.5,63.66 L205.0,63.50 L205.5,63.54 L206.0,63.87 L206.5,63.90 L207.0,63.13 L207.5,63.78 L208.0,63.70 L208.5,63.85 L209.0,63.55 L209.5,63.34 L210.0,63.75 L210.5,63.70 L211.0,63.86 L211.5,63.54 L212.0,63.80 L212.5,63.28 L213.0,63.15 L213.5,63.90 L214.0,63.55 L214.5,63.78 L215.0,63.84 L215.5,63.84 L216.0,63.81 L216.5,63.89 L217.0,63.88 L217.5,63.90 L218.0,63.79 L218.5,62.67 L219.0,62.97 L219.5,61.92 L220.0,62.22 L220.5,61.48 L221.0,60.99 L221.5,61.95 L222.0,61.91 L222.5,62.11 L223.0,63.08 L223.5,63.53 L224.0,63.71 L224.5,63.00 L225.0,61.94 L225.5,60.94 L226.0,60.29 L226.5,61.17 L227.0,61.37 L227.5,62.99 L228.0,63.45 L228.5,62.97 L229.0,62.77 L229.5,60.91 L230.0,61.40 L230.5,61.39 L231.0,61.03 L231.5,61.03 L232.0,60.56 L232.5,60.96 L233.0,61.37 L233.5,61.11 L234.0,60.46 L234.5,60.72 L235.0,60.89 L235.5,61.34 L236.0,61.21 L236.5,61.06 L237.0,61.38 L237.5,61.24 L238.0,61.20 L238.5,61.25 L239.0,60.80 L239.5,61.33 L240.0,61.16 L240.5,60.51 L241.0,61.04 L241.5,61.13 L242.0,60.87 L242.5,60.91 L243.0,61.10 L243.5,61.26 L244.0,61.06 L244.5,60.54 L245.0,61.23 L245.5,61.37 L246.0,62.71 L246.5,63.49 L247.0,63.24 L247.5,61.74 L248.0,59.72 L248.5,57.43 L249.0,55.60 L249.5,54.90 L250.0,54.70 L250.5,57.01 L251.0,59.72 L251.5,61.64 L252.0,62.62 L252.5,63.89 L253.0,63.87 L253.5,63.89 L254.0,63.69 L254.5,63.69 L255.0,63.90 L255.5,63.58 L256.0,63.56 L256.5,63.43 L257.0,63.53 L257.5,63.90 L258.0,63.90 L258.5,63.66 L259.0,63.85 L259.5,63.81 L260.0,63.43 L260.5,63.41 L261.0,63.79 L261.5,63.22 L262.0,63.89 L262.5,63.89 L263.0,63.87 L263.5,63.11 L264.0,63.30 L264.5,62.28 L265.0,61.65 L265.5,60.35 L266.0,59.27 L266.5,59.69 L267.0,59.98 L267.5,61.32 L268.0,62.42 L268.5,62.76 L269.0,63.31 L269.5,63.90 L270.0,63.79 L270.5,63.89 L271.0,63.86 L271.5,63.77 L272.0,63.81 L272.5,63.07 L273.0,63.11 L273.5,63.51 L274.0,63.79 L274.5,63.75 L275.0,63.12 L275.5,63.89 L276.0,63.74 L276.5,63.89 L277.0,63.52 L277.5,63.65 L278.0,63.59 L278.5,63.89 L279.0,63.77 L279.5,63.87 L280.0,63.02 L280.5,63.68 L281.0,63.90 L281.5,63.87 L282.0,63.68 L282.5,63.80 L283.0,63.53 L283.5,63.04 L284.0,63.71 L284.5,63.56 L285.0,63.83 L285.5,63.16 L286.0,63.56 L286.5,62.92 L287.0,63.66 L287.5,63.06 L288.0,63.87 L288.5,63.09 L289.0,63.61 L289.5,63.89 L290.0,63.54 L290.5,63.80 L291.0,63.90 L291.5,63.90 L292.0,63.90 L292.5,63.72 L293.0,63.22 L293.5,63.54 L294.0,63.47 L294.5,63.88 L295.0,63.50 L295.5,63.71 L296.0,63.88 L296.5,63.70 L297.0,63.20 L297.5,63.45 L298.0,63.28 L298.5,63.90 L299.0,63.83 L299.5,62.90 L300.0,63.90 L300.5,63.87 L301.0,63.74 L301.5,63.90 L302.0,63.85 L302.5,63.09 L303.0,63.49 L303.5,63.46 L304.0,63.34 L304.5,63.14 L305.0,63.89 L305.5,63.83 L306.0,63.90 L306.5,63.79 L307.0,63.45 L307.5,63.77 L308.0,63.53 L308.5,62.90 L309.0,63.70 L309.5,63.55 L310.0,63.60 L310.5,63.69 L311.0,63.89 L311.5,63.75 L312.0,63.25 L312.5,63.34 L313.0,63.13 L313.5,63.10 L314.0,63.18 L314.5,63.75 L315.0,62.93 L315.5,63.78 L316.0,63.79 L316.5,63.87 L317.0,63.84 L317.5,63.42 L318.0,63.29 L318.5,63.90 L319.0,63.27 L319.5,63.04 L320.0,63.59 L320.5,63.24 L321.0,61.09 L321.5,61.02 L322.0,62.52 L322.5,63.90 L323.0,63.90 L323.5,63.76 L324.0,63.82 L324.5,63.31 L325.0,63.90 L325.5,63.88 L326.0,63.26 L326.5,62.89 L327.0,62.24 L327.5,62.50 L328.0,62.86 L328.5,62.88 L329.0,62.58 L329.5,63.13 L330.0,63.69 L330.5,63.59 L331.0,63.73 L331.5,63.40 L332.0,63.90 L332.5,63.59 L333.0,63.06 L333.5,63.61 L334.0,63.74 L334.5,63.86 L335.0,63.88 L335.5,63.71 L336.0,63.73 L336.5,63.57 L337.0,63.89 L337.5,63.78 L338.0,63.20 L338.5,63.89 L339.0,63.85 L339.5,63.20 L340.0,63.84 L340.0,64.90Z M350.0,64.90 L350.0,63.75 L350.5,63.53 L351.0,63.05 L351.5,63.08 L352.0,63.72 L352.5,63.65 L353.0,63.62 L353.5,63.81 L354.0,63.41 L354.5,63.90 L355.0,63.47 L355.5,63.75 L356.0,63.03 L356.5,62.51 L357.0,61.81 L357.5,62.57 L358.0,62.97 L358.5,63.55 L359.0,63.90 L359.5,63.48 L360.0,63.87 L360.5,63.89 L361.0,62.97 L361.5,63.04 L362.0,63.66 L362.5,63.84 L363.0,63.71 L363.5,63.65 L364.0,63.27 L364.5,63.84 L365.0,63.88 L365.5,63.08 L366.0,63.14 L366.5,63.27 L367.0,63.43 L367.5,63.66 L368.0,63.29 L368.5,63.13 L369.0,63.14 L369.5,63.89 L370.0,63.84 L370.5,63.83 L371.0,63.48 L371.5,63.90 L372.0,63.23 L372.5,63.14 L373.0,63.84 L373.5,63.84 L374.0,63.23 L374.5,63.69 L375.0,63.86 L375.5,63.68 L376.0,63.89 L376.5,63.39 L377.0,63.61 L377.0,64.90Z M410.0,64.90 L410.0,63.71 L410.5,63.04 L411.0,63.19 L411.5,63.86 L412.0,63.76 L412.5,63.69 L413.0,63.89 L413.5,63.87 L414.0,63.80 L414.5,63.34 L415.0,63.70 L415.5,63.85 L416.0,63.43 L416.5,63.16 L417.0,63.71 L417.5,63.75 L418.0,63.82 L418.5,63.61 L419.0,63.88 L419.5,63.90 L420.0,63.45 L420.5,63.88 L421.0,63.41 L421.5,63.53 L422.0,63.33 L422.5,63.78 L423.0,63.04 L423.5,63.90 L424.0,63.89 L424.5,63.63 L425.0,63.84 L425.5,63.90 L426.0,63.67 L426.5,63.11 L427.0,63.73 L427.5,63.72 L428.0,63.25 L428.5,63.15 L429.0,63.86 L429.5,63.41 L430.0,63.46 L430.5,63.82 L431.0,63.89 L431.5,63.24 L432.0,63.85 L432.5,63.70 L433.0,63.70 L433.5,63.37 L434.0,63.57 L434.5,63.37 L435.0,62.98 L435.5,63.48 L436.0,63.90 L436.5,62.93 L437.0,63.75 L437.5,63.75 L438.0,63.81 L438.5,63.17 L439.0,63.76 L439.5,63.90 L440.0,63.72 L440.5,63.70 L441.0,63.27 L441.5,63.14 L442.0,62.22 L442.5,61.82 L443.0,62.09 L443.5,62.24 L444.0,62.41 L444.5,62.52 L445.0,62.36 L445.5,63.02 L446.0,63.13 L446.5,62.82 L447.0,62.93 L447.5,63.21 L448.0,63.61 L448.5,63.78 L449.0,63.68 L449.5,63.38 L450.0,63.88 L450.0,64.90Z M470.0,64.90 L470.0,63.05 L470.5,63.34 L471.0,63.79 L471.5,63.16 L472.0,63.84 L472.5,63.89 L473.0,63.80 L473.5,63.78 L474.0,63.90 L474.5,63.20 L475.0,63.10 L475.5,62.90 L476.0,63.83 L476.5,63.51 L477.0,63.69 L477.5,63.70 L478.0,63.53 L478.5,63.31 L479.0,63.85 L479.5,63.61 L480.0,63.14 L480.5,63.21 L481.0,62.28 L481.5,62.59 L482.0,61.88 L482.5,61.43 L483.0,61.01 L483.5,60.67 L484.0,60.71 L484.5,60.94 L485.0,60.85 L485.5,61.94 L486.0,62.65 L486.5,63.50 L487.0,63.12 L487.5,63.80 L488.0,63.59 L488.5,63.87 L489.0,63.40 L489.5,63.85 L490.0,63.43 L490.0,64.90Z" fill="rgb(35,35,240)" fill-opacity="0.4"/>
<path d="M89.0,152.20 L89.0,151.40 L89.5,151.40 L90.0,151.40 L90.5,151.40 L91.0,151.40 L91.5,151.40 L92.0,151.40 L92.5,151.40 L93.0,151.40 L93.5,151.40 L94.0,151.40 L94.5,151.40 L95.0,151.40 L95.5,151.40 L96.0,151.40 L96.5,151.40 L97.0,151.40 L97.5,151.40 L98.0,151.40 L98.5,151.40 L99.0,151.40 L99.5,151.40 L100.0,151.40 L100.0,152.20Z M110.0,152.20 L110.0,151.40 L110.5,151.40 L111.0,151.40 L111.5,151.40 L112.0,151.40 L112.5,151.40 L113.0,151.40 L113.5,151.40 L114.0,151.40 L114.5,151.40 L115.0,151.40 L115.5,151.40 L116.0,151.40 L116.5,151.40 L117.0,151.40 L117.5,151.40 L118.0,151.40 L118.5,151.40 L119.0,151.40 L119.5,151.40 L120.0,151.40 L120.5,151.40 L121.0,151.40 L121.5,151.40 L122.0,151.40 L122.0,152.20Z M126.0,152.20 L126.0,151.40 L126.5,151.40 L127.0,151.40 L127.5,151.40 L128.0,151.40 L128.5,151.40 L129.0,151.40 L129.5,151.40 L130.0,151.40 L130.5,151.40 L131.0,151.40 L131.5,151.40 L132.0,151.40 L132.5,151.40 L133.0,151.40 L133.5,151.40 L134.0,151.40 L134.5,151.40 L135.0,151.40 L135.5,151.40 L136.0,151.40 L136.0,152.20Z M139.0,152.20 L139.0,151.40 L139.5,151.40 L140.0,151.40 L140.5,151.40 L141.0,151.40 L141.5,151.40 L142.0,151.40 L142.5,151.40 L143.0,151.40 L143.5,151.40 L144.0,151.40 L144.5,151.40 L145.0,151.40 L145.5,151.40 L146.0,151.40 L146.5,151.40 L147.0,151.40 L147.0,152.20Z M153.0,152.20 L153.0,151.40 L153.5,151.40 L154.0,151.40 L154.5,151.40 L155.0,151.40 L155.5,151.40 L156.0,151.40 L156.5,151.40 L157.0,151.40 L157.5,151.40 L158.0,151.40 L158.0,152.20Z M162.0,152.20 L162.0,151.40 L162.5,151.40 L163.0,151.40 L163.5,151.40 L164.0,151.40 L164.5,151.40 L165.0,151.40 L165.5,151.40 L166.0,151.40 L166.5,151.40 L167.0,151.40 L167.5,151.40 L168.0,151.40 L168.0,152.20Z M172.0,152.20 L172.0,151.40 L172.5,151.40 L173.0,151.40 L173.5,151.40 L174.0,151.40 L174.5,151.40 L175.0,151.40 L175.5,151.40 L176.0,151.40 L176.0,152.20Z M184.0,152.20 L184.0,151.40 L184.5,151.40 L185.0,151.40 L185.5,151.40 L186.0,151.40 L186.5,151.40 L187.0,151.40 L187.5,151.40 L188.0,151.40 L188.5,151.40 L189.0,151.40 L189.5,151.40 L190.0,151.40 L190.5,151.40 L191.0,151.40 L191.0,152.20Z M194.0,152.20 L194.0,151.40 L194.5,151.40 L195.0,151.40 L195.5,151.40 L196.0,151.40 L196.5,151.40 L197.0,151.40 L197.5,151.40 L198.0,151.40 L198.5,151.40 L199.0,151.40 L199.5,151.40 L200.0,151.40 L200.5,151.40 L201.0,151.40 L201.5,151.40 L202.0,151.40 L202.5,151.40 L203.0,151.40 L203.5,151.40 L204.0,151.40 L204.5,151.40 L205.0,151.40 L205.0,152.20Z" fill="rgb(225,130,140)" fill-opacity="0.4"/>
<path d="M205.0,152.00 L205.0,150.32 L205.5,150.74 L206.0,151.19 L206.5,150.20 L207.0,149.88 L207.5,151.30 L208.0,150.26 L208.5,150.32 L209.0,150.27 L209.5,150.86 L210.0,151.27 L210.5,151.09 L211.0,150.54 L211.5,150.58 L212.0,151.29 L212.5,151.30 L213.0,151.28 L213.5,150.32 L214.0,151.30 L214.5,151.29 L215.0,151.29 L215.5,151.30 L216.0,151.28 L216.5,150.27 L217.0,149.69 L217.5,149.81 L218.0,150.34 L218.5,149.71 L219.0,149.32 L219.5,147.57 L220.0,148.25 L220.5,148.02 L221.0,147.95 L221.5,147.31 L222.0,147.75 L222.5,147.33 L223.0,148.18 L223.5,149.55 L224.0,149.72 L224.5,150.87 L225.0,150.02 L225.5,150.91 L226.0,149.71 L226.5,150.14 L227.0,149.22 L227.5,149.44 L228.0,150.04 L228.5,149.84 L229.0,149.25 L229.5,149.96 L230.0,150.00 L230.5,148.55 L231.0,150.05 L231.5,149.05 L232.0,150.18 L232.5,149.87 L233.0,148.86 L233.5,148.39 L234.0,147.32 L234.5,145.60 L235.0,144.00 L235.5,143.26 L236.0,141.83 L236.5,140.08 L237.0,139.38 L237.5,138.81 L238.0,139.49 L238.5,138.69 L239.0,140.39 L239.5,142.15 L240.0,143.49 L240.5,143.81 L241.0,146.05 L241.5,147.30 L242.0,148.64 L242.5,149.33 L243.0,150.13 L243.5,148.39 L244.0,149.16 L244.5,148.55 L245.0,148.79 L245.5,148.40 L246.0,146.79 L246.5,147.43 L247.0,146.42 L247.5,146.17 L248.0,145.52 L248.5,145.06 L249.0,143.22 L249.5,144.11 L250.0,143.48 L250.5,142.83 L251.0,141.84 L251.5,140.27 L252.0,138.39 L252.5,136.43 L253.0,133.04 L253.5,131.01 L254.0,129.03 L254.5,127.77 L255.0,127.09 L255.5,127.19 L256.0,126.85 L256.5,129.08 L257.0,130.46 L257.5,131.16 L258.0,132.87 L258.5,136.07 L259.0,138.32 L259.5,140.13 L260.0,140.48 L260.5,141.45 L261.0,142.31 L261.5,142.86 L262.0,143.19 L262.5,144.10 L263.0,144.71 L263.5,144.74 L264.0,144.47 L264.5,146.21 L265.0,146.01 L265.5,147.04 L266.0,147.71 L266.5,147.95 L267.0,147.30 L267.5,148.69 L268.0,147.96 L268.5,148.15 L269.0,147.56 L269.5,147.12 L270.0,147.52 L270.5,146.48 L271.0,145.09 L271.5,143.76 L272.0,141.35 L272.5,140.00 L273.0,137.87 L273.5,135.46 L274.0,132.51 L274.5,129.17 L275.0,123.22 L275.5,117.44 L276.0,110.07 L276.5,101.07 L277.0,93.67 L277.5,87.79 L278.0,81.70 L278.5,76.74 L279.0,73.02 L279.5,72.74 L280.0,73.89 L280.5,77.01 L281.0,81.55 L281.5,87.84 L282.0,94.77 L282.5,102.54 L283.0,110.18 L283.5,117.24 L284.0,124.24 L284.5,129.13 L285.0,132.65 L285.5,135.50 L286.0,137.85 L286.5,139.83 L287.0,140.96 L287.5,143.71 L288.0,143.89 L288.5,146.20 L289.0,147.66 L289.5,148.18 L290.0,149.26 L290.5,148.51 L291.0,150.34 L291.5,149.65 L292.0,150.70 L292.5,150.22 L293.0,149.81 L293.5,151.00 L294.0,149.88 L294.5,151.24 L295.0,151.27 L295.5,150.39 L296.0,150.78 L296.5,151.28 L297.0,150.88 L297.5,150.83 L298.0,149.91 L298.5,147.41 L299.0,145.96 L299.5,145.32 L300.0,145.20 L300.5,144.93 L301.0,144.64 L301.5,146.20 L302.0,147.69 L302.5,149.21 L303.0,149.03 L303.5,151.07 L304.0,150.83 L304.5,150.66 L305.0,149.17 L305.5,149.78 L306.0,150.46 L306.5,149.51 L307.0,149.06 L307.5,150.16 L308.0,149.74 L308.5,150.02 L309.0,149.49 L309.5,149.16 L310.0,150.50 L310.5,150.43 L311.0,150.49 L311.5,150.47 L312.0,150.48 L312.5,150.11 L313.0,151.06 L313.5,149.87 L314.0,151.15 L314.5,150.69 L315.0,151.30 L315.5,150.80 L316.0,151.13 L316.5,149.81 L317.0,150.62 L317.5,150.62 L318.0,151.26 L318.5,151.25 L319.0,150.30 L319.5,150.79 L320.0,150.38 L320.5,151.29 L321.0,150.59 L321.5,150.66 L322.0,150.31 L322.5,150.56 L323.0,151.01 L323.5,150.53 L324.0,149.80 L324.5,148.54 L325.0,149.31 L325.5,149.71 L326.0,148.38 L326.5,149.80 L327.0,149.03 L327.5,148.87 L328.0,149.80 L328.5,149.70 L329.0,148.70 L329.5,148.69 L330.0,148.70 L330.5,149.47 L331.0,149.73 L331.5,148.59 L332.0,149.48 L332.5,148.26 L333.0,149.79 L333.5,149.78 L334.0,149.48 L334.5,148.68 L335.0,149.33 L335.5,149.68 L336.0,149.42 L336.5,149.65 L337.0,148.36 L337.5,149.56 L338.0,149.70 L338.5,149.20 L339.0,149.48 L339.5,148.40 L340.0,149.49 L340.5,148.28 L341.0,149.66 L341.5,149.54 L342.0,148.67 L342.5,149.79 L343.0,149.45 L343.5,149.26 L344.0,149.33 L344.5,149.77 L345.0,148.99 L345.5,149.45 L346.0,149.47 L346.5,150.66 L347.0,149.58 L347.5,150.52 L348.0,150.85 L348.5,150.79 L349.0,151.13 L349.5,150.51 L350.0,149.66 L350.5,148.53 L351.0,149.17 L351.5,149.20 L352.0,148.12 L352.5,148.13 L353.0,149.19 L353.5,148.61 L354.0,148.97 L354.5,148.98 L355.0,148.40 L355.5,148.61 L356.0,148.87 L356.5,147.47 L357.0,148.49 L357.5,149.14 L358.0,148.49 L358.5,149.20 L359.0,148.95 L359.5,149.14 L360.0,149.19 L360.5,148.56 L361.0,148.09 L361.5,149.15 L362.0,148.29 L362.5,148.93 L363.0,148.57 L363.5,149.42 L364.0,149.77 L364.0,152.00Z M366.0,152.00 L366.0,150.00 L366.5,150.22 L367.0,149.91 L367.5,149.16 L368.0,148.94 L368.5,149.22 L369.0,149.21 L369.5,149.76 L370.0,148.91 L370.5,149.79 L371.0,149.80 L371.5,149.94 L372.0,149.58 L372.5,149.80 L373.0,149.79 L373.5,149.17 L374.0,148.77 L374.5,149.86 L375.0,149.95 L375.5,147.98 L376.0,149.16 L376.5,148.58 L377.0,149.17 L377.5,148.90 L378.0,147.62 L378.5,148.50 L379.0,148.29 L379.5,148.36 L380.0,147.97 L380.5,147.55 L381.0,146.77 L381.5,147.18 L382.0,148.79 L382.5,149.02 L383.0,149.12 L383.5,149.43 L384.0,150.30 L384.5,151.07 L385.0,150.96 L385.5,149.74 L386.0,151.00 L386.5,151.30 L387.0,150.12 L387.5,150.79 L388.0,150.80 L388.5,150.99 L389.0,151.30 L389.5,151.29 L390.0,151.09 L390.5,149.92 L391.0,151.30 L391.5,151.04 L392.0,151.30 L392.5,150.55 L393.0,151.25 L393.5,151.21 L394.0,151.29 L394.5,151.30 L395.0,151.09 L395.5,150.65 L396.0,151.27 L396.5,149.81 L397.0,149.98 L397.5,150.00 L398.0,151.02 L398.5,151.14 L399.0,150.58 L399.5,151.24 L400.0,150.29 L400.5,149.99 L401.0,151.25 L401.5,150.72 L402.0,150.01 L402.5,149.78 L403.0,150.23 L403.5,150.06 L404.0,149.86 L404.5,150.01 L405.0,148.74 L405.5,149.97 L406.0,149.23 L406.5,150.98 L407.0,151.05 L407.5,150.12 L408.0,150.65 L408.5,150.80 L409.0,151.23 L409.5,151.28 L410.0,149.73 L410.5,151.21 L411.0,150.53 L411.5,150.58 L412.0,150.99 L412.5,150.60 L413.0,150.04 L413.5,151.29 L414.0,150.41 L414.5,150.72 L415.0,151.17 L415.5,150.67 L416.0,149.73 L416.5,148.81 L417.0,148.69 L417.5,149.74 L418.0,149.67 L418.5,149.87 L419.0,149.41 L419.5,149.90 L420.0,149.72 L420.5,150.04 L421.0,151.25 L421.5,150.97 L422.0,150.99 L422.5,151.15 L423.0,150.75 L423.5,151.25 L424.0,150.39 L424.5,151.30 L425.0,149.77 L425.5,150.61 L426.0,150.48 L426.5,150.37 L427.0,151.02 L427.5,150.89 L428.0,150.54 L428.5,149.99 L429.0,150.06 L429.5,150.97 L430.0,150.92 L430.5,151.24 L431.0,150.36 L431.5,150.99 L432.0,151.06 L432.5,151.23 L433.0,150.60 L433.5,150.95 L434.0,151.27 L434.5,151.21 L435.0,151.09 L435.5,150.74 L436.0,149.68 L436.5,150.78 L437.0,150.44 L437.5,150.73 L438.0,150.55 L438.5,148.90 L439.0,150.18 L439.5,149.74 L440.0,148.65 L440.5,149.58 L441.0,150.25 L441.5,149.02 L442.0,150.15 L442.5,149.45 L443.0,149.53 L443.5,150.63 L444.0,150.07 L444.5,150.48 L445.0,151.28 L445.5,151.29 L446.0,151.16 L446.5,150.17 L447.0,151.29 L447.5,150.04 L448.0,151.14 L448.5,150.56 L449.0,150.47 L449.5,151.11 L450.0,150.34 L450.5,150.87 L451.0,150.98 L451.5,150.16 L452.0,150.45 L452.5,150.19 L453.0,151.16 L453.5,151.29 L454.0,151.04 L454.5,150.54 L455.0,150.84 L455.5,150.97 L456.0,149.44 L456.5,149.31 L457.0,148.68 L457.5,149.35 L458.0,149.79 L458.5,149.87 L459.0,149.59 L459.5,150.10 L460.0,149.37 L460.5,150.99 L461.0,150.69 L461.5,151.00 L462.0,149.88 L462.5,150.63 L463.0,151.14 L463.5,149.72 L464.0,150.62 L464.5,149.88 L465.0,149.73 L465.5,150.08 L466.0,151.30 L466.5,151.04 L467.0,150.46 L467.5,151.04 L468.0,150.55 L468.5,148.57 L469.0,147.64 L469.5,148.65 L470.0,148.50 L470.5,147.38 L471.0,148.10 L471.5,147.51 L472.0,147.32 L472.5,147.24 L473.0,148.25 L473.5,146.39 L474.0,146.17 L474.5,146.21 L475.0,146.28 L475.5,144.96 L476.0,144.98 L476.5,144.63 L477.0,145.58 L477.5,146.29 L478.0,147.03 L478.5,147.25 L479.0,148.05 L479.5,147.20 L480.0,148.33 L480.5,148.06 L481.0,147.64 L481.5,147.10 L482.0,148.17 L482.5,148.48 L483.0,146.95 L483.5,148.04 L484.0,148.50 L484.5,148.11 L485.0,147.70 L485.5,147.75 L486.0,148.24 L486.5,148.50 L487.0,147.97 L487.5,148.67 L488.0,149.09 L488.5,148.64 L489.0,149.39 L489.5,149.89 L490.0,151.10 L490.5,150.16 L491.0,151.06 L491.5,150.84 L492.0,150.66 L492.5,151.15 L493.0,150.07 L493.5,147.68 L494.0,147.01 L494.5,148.55 L495.0,150.04 L495.4,152.00Z" fill="rgb(235,25,45)" fill-opacity="0.42" stroke="rgb(220,25,45)" stroke-opacity="0.5" stroke-width="0.6"/>
<path d="M210.0,152.00 L210.0,151.20 L210.5,151.20 L211.0,151.20 L211.5,151.20 L212.0,151.20 L212.5,151.20 L213.0,151.20 L213.5,151.20 L214.0,151.20 L214.5,151.20 L215.0,151.20 L215.5,151.20 L216.0,151.20 L216.5,151.20 L217.0,151.20 L217.5,151.20 L218.0,151.20 L218.5,150.86 L219.0,150.38 L219.5,149.88 L220.0,149.43 L220.5,149.11 L221.0,149.00 L221.5,149.11 L222.0,149.43 L222.5,149.88 L223.0,150.38 L223.5,150.86 L224.0,151.20 L224.5,151.20 L225.0,151.20 L225.5,151.20 L226.0,151.20 L226.5,151.20 L227.0,151.20 L227.5,151.20 L228.0,151.20 L228.5,151.20 L229.0,151.20 L229.5,151.20 L230.0,151.20 L230.5,151.20 L231.0,151.20 L231.5,151.20 L232.0,151.20 L232.5,151.20 L233.0,151.13 L233.5,150.93 L234.0,150.70 L234.5,150.45 L235.0,150.17 L235.5,149.88 L236.0,149.57 L236.5,149.27 L237.0,148.98 L237.5,148.71 L238.0,148.47 L238.5,148.27 L239.0,148.12 L239.5,148.03 L240.0,148.00 L240.5,148.03 L241.0,148.12 L241.5,148.27 L242.0,148.47 L242.5,148.71 L243.0,148.98 L243.5,149.27 L244.0,149.57 L244.5,149.88 L245.0,150.17 L245.5,149.71 L246.0,148.97 L246.5,148.23 L247.0,147.59 L247.5,147.15 L248.0,147.00 L248.5,147.15 L249.0,147.59 L249.5,148.23 L250.0,148.97 L250.5,149.71 L251.0,150.38 L251.5,150.92 L252.0,151.20 L252.5,151.20 L253.0,151.20 L253.5,151.20 L254.0,151.20 L254.5,151.20 L255.0,151.20 L255.5,150.99 L256.0,150.40 L256.5,149.59 L257.0,148.51 L257.5,147.17 L258.0,145.59 L258.5,143.86 L259.0,142.11 L259.5,140.48 L260.0,139.16 L260.5,138.30 L261.0,138.00 L261.5,138.30 L262.0,139.16 L262.5,140.48 L263.0,142.11 L263.5,143.86 L264.0,145.59 L264.5,147.17 L265.0,148.02 L265.5,145.32 L266.0,142.33 L266.5,139.93 L267.0,139.00 L267.5,139.93 L268.0,142.33 L268.5,145.32 L269.0,148.02 L269.5,149.95 L270.0,151.09 L270.5,151.20 L271.0,151.20 L271.5,151.20 L272.0,151.20 L272.5,151.20 L273.0,151.20 L273.5,151.20 L274.0,151.11 L274.5,150.71 L275.0,150.15 L275.5,149.41 L276.0,148.44 L276.5,147.21 L277.0,145.66 L277.5,143.77 L278.0,141.53 L278.5,138.93 L279.0,135.99 L279.5,132.77 L280.0,129.34 L280.5,125.82 L281.0,122.32 L281.5,119.00 L282.0,116.01 L282.5,113.49 L283.0,111.59 L283.5,110.40 L284.0,110.00 L284.5,110.40 L285.0,111.59 L285.5,113.49 L286.0,116.01 L286.5,119.00 L287.0,122.32 L287.5,123.62 L288.0,124.82 L288.5,126.29 L289.0,127.98 L289.5,129.83 L290.0,131.79 L290.5,133.80 L291.0,135.82 L291.5,137.79 L292.0,139.67 L292.5,141.43 L293.0,143.05 L293.5,144.52 L294.0,145.82 L294.5,146.96 L295.0,147.94 L295.5,148.77 L296.0,149.46 L296.5,150.03 L297.0,150.49 L297.5,150.17 L298.0,149.57 L298.5,148.98 L299.0,148.47 L299.5,148.12 L300.0,148.00 L300.0,152.00Z M350.0,152.00 L350.0,151.20 L350.5,151.20 L351.0,151.20 L351.5,151.20 L352.0,151.20 L352.5,151.20 L353.0,151.20 L353.5,151.08 L354.0,150.79 L354.5,150.49 L355.0,150.24 L355.5,150.06 L356.0,150.00 L356.5,150.06 L357.0,150.24 L357.5,150.49 L358.0,150.79 L358.5,151.08 L359.0,151.20 L359.5,151.20 L360.0,151.20 L360.5,151.20 L361.0,151.20 L361.5,151.20 L362.0,151.20 L362.0,152.00Z M375.0,152.00 L375.0,151.20 L375.5,151.20 L376.0,151.20 L376.5,151.20 L377.0,151.20 L377.5,151.20 L378.0,151.20 L378.5,151.20 L379.0,150.97 L379.5,150.48 L380.0,150.00 L380.5,149.64 L381.0,149.50 L381.5,149.64 L382.0,150.00 L382.5,150.48 L383.0,150.97 L383.5,151.20 L384.0,151.20 L384.5,151.20 L385.0,151.20 L385.0,152.00Z M468.0,152.00 L468.0,151.20 L468.5,151.20 L469.0,151.20 L469.5,151.20 L470.0,151.20 L470.5,151.20 L471.0,151.00 L471.5,150.70 L472.0,150.36 L472.5,149.97 L473.0,149.57 L473.5,149.17 L474.0,148.80 L474.5,148.47 L475.0,148.22 L475.5,148.06 L476.0,148.00 L476.5,148.06 L477.0,148.22 L477.5,148.47 L478.0,148.80 L478.5,149.17 L479.0,149.57 L479.5,149.97 L480.0,150.36 L480.5,150.70 L481.0,151.00 L481.5,151.20 L482.0,151.20 L482.5,151.20 L483.0,151.20 L483.5,151.20 L484.0,151.20 L484.5,151.20 L485.0,151.20 L485.5,151.20 L486.0,151.20 L486.5,151.20 L487.0,151.20 L487.5,151.20 L488.0,151.20 L488.5,151.20 L489.0,151.20 L489.5,151.20 L490.0,151.20 L490.0,152.00Z" fill="rgb(235,25,45)" fill-opacity="0.42"/>
<path d="M228.0,152.00 L228.0,150.50 L228.5,150.50 L229.0,150.50 L229.5,150.50 L230.0,150.50 L230.5,150.50 L231.0,150.36 L231.5,149.97 L232.0,149.57 L232.5,149.17 L233.0,148.80 L233.5,148.47 L234.0,148.22 L234.5,148.06 L235.0,148.00 L235.5,148.00 L236.0,148.00 L236.5,147.59 L237.0,147.27 L237.5,147.07 L238.0,147.00 L238.5,147.07 L239.0,147.27 L239.5,147.59 L240.0,148.00 L240.5,148.00 L241.0,148.00 L241.5,148.00 L242.0,147.82 L242.5,147.59 L243.0,147.38 L243.5,147.22 L244.0,147.10 L244.5,147.02 L245.0,147.00 L245.5,147.02 L246.0,147.10 L246.5,147.22 L247.0,147.38 L247.5,147.59 L248.0,147.82 L248.5,148.00 L249.0,148.00 L249.5,148.00 L250.0,148.00 L250.5,148.00 L251.0,148.00 L251.5,148.00 L252.0,147.62 L252.5,147.09 L253.0,146.54 L253.5,146.00 L254.0,145.46 L254.5,144.96 L255.0,144.48 L255.5,144.06 L256.0,143.69 L256.5,143.40 L257.0,143.18 L257.5,143.04 L258.0,143.00 L258.5,143.04 L259.0,143.18 L259.5,143.40 L260.0,143.69 L260.5,144.06 L261.0,144.48 L261.5,144.96 L262.0,145.46 L262.5,146.00 L263.0,146.54 L263.5,147.09 L264.0,147.62 L264.5,147.23 L265.0,146.72 L265.5,146.24 L266.0,145.82 L266.5,145.48 L267.0,145.22 L267.5,145.05 L268.0,145.00 L268.5,145.05 L269.0,145.22 L269.5,145.48 L270.0,145.82 L270.5,146.24 L271.0,146.72 L271.5,147.23 L272.0,147.75 L272.5,148.00 L273.0,148.00 L273.5,147.94 L274.0,146.41 L274.5,144.52 L275.0,142.26 L275.5,139.67 L276.0,136.81 L276.5,133.80 L277.0,130.80 L277.5,127.98 L278.0,125.53 L278.5,123.62 L279.0,122.41 L279.5,122.00 L280.0,122.41 L280.5,123.62 L281.0,125.53 L281.5,127.98 L282.0,126.52 L282.5,124.63 L283.0,123.20 L283.5,122.30 L284.0,122.00 L284.5,122.30 L285.0,123.20 L285.5,124.63 L286.0,126.52 L286.5,128.75 L287.0,131.22 L287.5,133.80 L288.0,136.39 L288.5,138.87 L289.0,141.19 L289.5,143.27 L290.0,145.10 L290.5,146.65 L291.0,147.94 L291.5,148.00 L292.0,148.00 L292.5,148.00 L293.0,148.00 L293.5,148.00 L294.0,148.00 L294.5,148.00 L295.0,148.00 L295.5,148.06 L296.0,148.22 L296.5,148.47 L297.0,148.80 L297.5,149.17 L298.0,149.57 L298.5,149.35 L299.0,149.16 L299.5,149.04 L300.0,149.00 L300.0,152.00Z" fill="rgb(235,25,45)" fill-opacity="0.3"/>
<path d="M89.3,189.8 L106.2,189.8 L107.0,176.0 L121.0,176.0 L133.4,176.0 L143.0,186.0 L147.5,176.0 L152.6,189.5 L167.0,176.0 L179.8,176.0 L183.2,210.0 L184.6,176.0 L194.2,176.0 L197.0,176.0 L199.5,180.8 L202.9,176.0 L218.8,176.0 L221.0,176.0 L222.6,197.5 L224.4,177.0 L226.1,209.5 L228.1,192.5 L229.8,185.2 L231.8,190.7 L232.8,184.6 L234.3,176.0 L236.2,176.0 L237.9,176.0 L238.5,195.7 L239.6,187.4 L241.1,181.5 L242.3,176.0 L243.9,176.0 L245.4,192.9 L246.7,200.9 L247.7,188.9 L249.0,190.4 L250.9,189.1 L252.6,176.0 L253.8,190.6 L255.6,180.6 L256.7,187.9 L258.4,176.1 L259.5,179.8 L260.5,183.9 L263.6,209.8 L265.3,177.0 L266.7,180.5 L268.8,176.0 L270.2,195.4 L272.3,179.9 L274.5,191.1 L276.2,181.2 L278.0,185.0 L279.3,176.0 L281.5,176.0 L283.3,183.6 L285.5,191.3 L287.6,180.1 L289.0,176.0 L290.5,176.0 L291.8,184.5 L293.1,176.0 L294.2,189.8 L295.7,176.0 L297.4,178.3 L298.4,190.8 L301.0,184.6 L302.9,176.0 L304.7,176.0 L307.3,176.0 L309.3,176.0 L311.2,176.0 L313.2,176.0 L315.6,176.0 L317.1,176.1 L319.9,176.0 L321.3,182.9 L323.8,176.0 L326.3,176.0 L327.8,185.7 L330.3,181.7 L333.0,177.6 L335.5,176.0 L337.1,176.0 L338.8,180.5 L340.7,176.0 L343.6,193.0 L345.7,176.0 L348.6,176.9 L351.6,182.4 L354.8,176.0 L356.9,176.3 L359.1,176.0 L361.5,176.0 L366.0,180.4 L371.9,212.1 L385.4,176.0 L395.2,176.0 L397.5,176.0 L408.4,194.8 L413.0,176.0 L426.3,176.0 L432.0,176.0 L437.0,176.0 L449.6,192.7 L454.3,176.0 L473.8,244.2 L476.6,244.2 L479.3,244.2 L483.0,244.2 L489.4,193.0 L494.8,176.0" fill="none" stroke="rgb(80,80,235)" stroke-opacity="0.55" stroke-width="0.75" stroke-linejoin="round"/>
<path d="M89.3,198.4 L106.2,183.1 L108.1,185.0 L121.0,176.0 L123.0,183.5 L133.4,176.0 L143.0,176.0 L147.5,176.0 L152.6,176.0 L167.0,176.0 L179.8,176.0 L184.6,176.0 L194.2,176.0 L197.3,187.2 L199.5,180.8 L202.0,180.6 L219.7,185.0 L221.0,200.9 L222.6,176.0 L224.4,176.0 L226.2,190.2 L228.1,182.9 L229.8,197.1 L231.8,187.5 L232.8,202.8 L234.3,177.2 L236.2,197.3 L237.9,176.0 L238.5,186.7 L239.6,181.1 L241.1,188.5 L242.3,181.1 L243.9,191.2 L245.4,193.5 L246.5,184.2 L247.7,178.1 L249.0,192.7 L250.9,187.6 L252.0,200.9 L253.8,176.0 L255.6,185.4 L256.7,182.4 L258.4,189.3 L259.5,188.1 L260.5,176.0 L263.6,203.0 L265.3,188.5 L266.7,178.4 L268.8,181.6 L270.9,176.0 L272.3,176.0 L274.5,181.6 L276.2,176.0 L278.0,176.9 L279.3,180.9 L281.5,176.0 L282.9,198.3 L285.5,176.0 L287.6,178.6 L289.0,186.2 L290.5,176.0 L291.8,176.0 L293.1,176.0 L294.2,178.8 L295.7,181.3 L297.4,183.3 L298.5,176.9 L301.0,176.0 L302.9,176.8 L304.7,176.0 L307.3,181.2 L309.3,176.0 L311.2,176.0 L313.2,176.4 L315.7,187.3 L317.1,176.0 L319.9,176.0 L321.3,176.0 L323.8,176.0 L326.3,176.0 L327.8,176.0 L330.3,176.0 L333.0,176.0 L334.4,189.0 L337.1,176.0 L338.8,176.1 L340.7,176.1 L343.8,176.0 L345.7,181.6 L348.6,176.0 L351.6,176.0 L354.8,181.4 L356.9,176.5 L359.1,176.0 L361.5,176.0 L367.0,185.0 L371.3,204.6 L385.4,176.0 L397.5,194.2 L407.9,176.0 L414.8,182.1 L426.3,179.8 L432.0,183.8 L437.0,188.0 L450.0,193.0 L450.0,196.7 L453.7,210.4 L476.6,244.2 L477.5,225.0 L479.3,236.0 L483.0,244.2 L489.4,230.5 L494.8,193.0" fill="none" stroke="rgb(80,80,235)" stroke-opacity="0.55" stroke-width="0.75" stroke-linejoin="round"/>
<path d="M108.1,196.5 L113.8,186.4 L121.0,187.4 L133.4,176.0 L143.0,176.0 L152.6,176.0 L167.0,176.0 L179.8,176.0 L184.6,176.0 L194.2,176.0 L197.3,176.0 L202.9,176.0 L219.7,182.6 L221.0,196.9 L222.6,193.3 L224.4,176.0 L226.2,179.3 L228.1,182.5 L229.8,198.0 L231.8,197.5 L232.8,186.7 L234.3,186.5 L236.2,176.0 L237.9,179.2 L238.5,176.0 L239.6,176.0 L241.1,178.1 L242.3,184.2 L243.9,176.0 L245.4,178.2 L246.5,176.0 L247.7,176.0 L249.0,176.0 L250.9,176.0 L252.6,176.0 L253.8,176.0 L255.6,180.3 L256.7,183.6 L258.4,176.0 L259.5,176.0 L260.5,176.0 L263.6,196.0 L265.3,178.6 L266.7,176.0 L268.8,180.1 L270.9,176.0 L272.3,181.7 L274.5,176.0 L276.2,176.0 L278.0,176.0 L279.3,186.2 L281.5,176.0 L283.3,179.7 L285.5,183.4 L287.6,180.3 L289.0,179.2 L290.5,176.0 L291.8,177.2 L293.1,176.0 L294.2,176.3 L295.7,183.2 L297.4,176.0 L298.5,176.0 L301.0,176.0 L302.9,176.0 L304.7,176.0 L307.3,176.4 L309.3,176.0 L311.2,176.0 L313.2,176.0 L315.6,176.0 L317.1,177.8 L319.9,176.0 L321.0,181.5 L323.8,176.0 L326.3,176.0 L327.8,176.0 L330.3,179.3 L333.0,176.0 L335.5,176.0 L337.1,176.0 L338.8,176.0 L340.7,176.0 L343.8,176.0 L345.7,180.2 L348.6,178.3 L351.6,179.0 L353.3,183.3 L356.9,176.0 L359.1,176.0 L361.5,176.0 L362.0,187.3 L371.9,182.7 L385.4,176.0 L398.6,176.0 L407.9,176.0 L411.9,180.4 L426.3,176.0 L427.5,185.6 L433.2,187.3 L437.0,193.9 L437.0,198.5 L437.0,210.0 L450.0,221.4 L453.7,219.5 L474.0,244.2 L477.5,216.8 L477.5,232.3 L483.0,239.6 L489.4,244.2 L490.3,226.8 L494.8,176.0" fill="none" stroke="rgb(80,80,235)" stroke-opacity="0.55" stroke-width="0.75" stroke-linejoin="round"/>
<path d="M221.0,184.6 L221.9,198.7 L223.2,196.6 L224.4,183.0 L225.6,194.4 L226.5,202.2 L227.9,187.5 L229.2,186.8 L230.4,193.6 L231.6,191.5 L232.5,188.2 L233.3,183.0 L234.4,189.3 L235.6,188.7 L236.4,201.3 L237.8,199.1 L239.0,191.6 L240.0,186.5 L241.1,190.3 L242.7,178.0 L244.4,193.3 L245.9,178.0 L247.2,188.3 L248.3,187.3 L250.0,184.5 L251.3,192.5 L252.8,179.5 L253.7,178.0 L254.8,178.0 L256.3,180.3 L257.9,188.5 L259.5,186.6 L260.9,185.9" fill="none" stroke="rgb(80,80,235)" stroke-opacity="0.55" stroke-width="0.75" stroke-linejoin="round"/>
<path d="M221.0,197.0 L221.9,192.9 L223.2,188.0 L224.4,199.4 L225.6,191.0 L226.5,191.4 L227.9,191.4 L229.2,183.0 L230.4,196.8 L231.6,193.3 L232.5,194.2 L233.3,188.4 L234.4,194.3 L235.6,187.6 L236.4,190.7 L237.8,190.7 L239.0,180.3 L240.0,183.3 L241.1,185.7 L242.7,178.0 L244.4,190.2 L245.9,189.1 L247.2,178.0 L248.3,178.9 L250.0,180.5 L251.3,181.5 L252.8,182.4 L253.7,178.0 L254.8,182.3 L256.3,182.1 L257.9,185.7 L259.5,179.4 L260.9,185.1" fill="none" stroke="rgb(80,80,235)" stroke-opacity="0.55" stroke-width="0.75" stroke-linejoin="round"/>
<path d="M221.0,188.5 L221.9,184.4 L223.2,195.7 L224.4,194.4 L225.6,197.5 L226.5,190.1 L227.9,198.4 L229.2,197.3 L230.4,189.6 L231.6,197.2 L232.5,184.4 L233.3,195.7 L234.4,196.6 L235.6,183.0 L236.4,188.2 L237.8,186.3" fill="none" stroke="rgb(80,80,235)" stroke-opacity="0.55" stroke-width="0.75" stroke-linejoin="round"/>
<path d="M263.6,190.0 L266.1,180.8 L268.4,178.5 L270.0,176.0 L272.1,178.8 L273.9,187.8 L275.8,181.8 L277.0,176.0 L279.2,182.3 L281.6,190.3 L283.2,176.0 L284.8,182.4 L287.2,189.1 L288.5,184.6 L289.8,185.2 L291.1,185.8 L293.3,178.8 L295.4,180.8 L297.1,187.9 L299.1,190.8" fill="none" stroke="rgb(80,80,235)" stroke-opacity="0.55" stroke-width="0.75" stroke-linejoin="round"/>
<circle cx="89.3" cy="189.8" r="1.15" fill="rgb(20,20,225)" fill-opacity="0.72"/>
<circle cx="106.2" cy="189.8" r="1.15" fill="rgb(20,20,225)" fill-opacity="0.72"/>
<circle cx="107.0" cy="176.0" r="1.15" fill="rgb(20,20,225)" fill-opacity="0.72"/>
<circle cx="121.0" cy="176.0" r="1.15" fill="rgb(20,20,225)" fill-opacity="0.72"/>
<circle cx="133.4" cy="176.0" r="1.15" fill="rgb(20,20,225)" fill-opacity="0.72"/>
<circle cx="143.0" cy="186.0" r="1.15" fill="rgb(20,20,225)" fill-opacity="0.72"/>
<circle cx="147.5" cy="176.0" r="1.15" fill="rgb(20,20,225)" fill-opacity="0.72"/>
<circle cx="152.6" cy="189.5" r="1.15" fill="rgb(20,20,225)" fill-opacity="0.72"/>
<circle cx="167.0" cy="176.0" r="1.15" fill="rgb(20,20,225)" fill-opacity="0.72"/>
<circle cx="179.8" cy="176.0" r="1.15" fill="rgb(20,20,225)" fill-opacity="0.72"/>
<circle cx="183.2" cy="210.0" r="1.15" fill="rgb(20,20,225)" fill-opacity="0.72"/>
<circle cx="184.6" cy="176.0" r="1.15" fill="rgb(20,20,225)" fill-opacity="0.72"/>
<circle cx="194.2" cy="176.0" r="1.15" fill="rgb(20,20,225)" fill-opacity="0.72"/>
<circle cx="197.0" cy="176.0" r="1.15" fill="rgb(20,20,225)" fill-opacity="0.72"/>
<circle cx="199.5" cy="180.8" r="1.15" fill="rgb(20,20,225)" fill-opacity="0.72"/>
<circle cx="202.9" cy="176.0" r="1.15" fill="rgb(20,20,225)" fill-opacity="0.72"/>
<circle cx="218.8" cy="176.0" r="1.15" fill="rgb(20,20,225)" fill-opacity="0.72"/>
<circle cx="221.0" cy="176.0" r="1.15" fill="rgb(20,20,225)" fill-opacity="0.72"/>
<circle cx="222.6" cy="197.5" r="1.15" fill="rgb(20,20,225)" fill-opacity="0.72"/>
<circle cx="224.4" cy="177.0" r="1.15" fill="rgb(20,20,225)" fill-opacity="0.72"/>
<circle cx="226.1" cy="209.5" r="1.15" fill="rgb(20,20,225)" fill-opacity="0.72"/>
<circle cx="228.1" cy="192.5" r="1.15" fill="rgb(20,20,225)" fill-opacity="0.72"/>
<circle cx="229.8" cy="185.2" r="1.15" fill="rgb(20,20,225)" fill-opacity="0.72"/>
<circle cx="231.8" cy="190.7" r="1.15" fill="rgb(20,20,225)" fill-opacity="0.72"/>
<circle cx="232.8" cy="184.6" r="1.15" fill="rgb(20,20,225)" fill-opacity="0.72"/>
<circle cx="234.3" cy="176.0" r="1.15" fill="rgb(20,20,225)" fill-opacity="0.72"/>
<circle cx="236.2" cy="176.0" r="1.15" fill="rgb(20,20,225)" fill-opacity="0.72"/>
<circle cx="237.9" cy="176.0" r="1.15" fill="rgb(20,20,225)" fill-opacity="0.72"/>
<circle cx="238.5" cy="195.7" r="1.15" fill="rgb(20,20,225)" fill-opacity="0.72"/>
<circle cx="239.6" cy="187.4" r="1.15" fill="rgb(20,20,225)" fill-opacity="0.72"/>
<circle cx="241.1" cy="181.5" r="1.15" fill="rgb(20,20,225)" fill-opacity="0.72"/>
<circle cx="242.3" cy="176.0" r="1.15" fill="rgb(20,20,225)" fill-opacity="0.72"/>
<circle cx="243.9" cy="176.0" r="1.15" fill="rgb(20,20,225)" fill-opacity="0.72"/>
<circle cx="245.4" cy="192.9" r="1.15" fill="rgb(20,20,225)" fill-opacity="0.72"/>
<circle cx="246.7" cy="200.9" r="1.15" fill="rgb(20,20,225)" fill-opacity="0.72"/>
<circle cx="247.7" cy="188.9" r="1.15" fill="rgb(20,20,225)" fill-opacity="0.72"/>
<circle cx="249.0" cy="190.4" r="1.15" fill="rgb(20,20,225)" fill-opacity="0.72"/>
<circle cx="250.9" cy="189.1" r="1.15" fill="rgb(20,20,225)" fill-opacity="0.72"/>
<circle cx="252.6" cy="176.0" r="1.15" fill="rgb(20,20,225)" fill-opacity="0.72"/>
<circle cx="253.8" cy="190.6" r="1.15" fill="rgb(20,20,225)" fill-opacity="0.72"/>
<circle cx="255.6" cy="180.6" r="1.15" fill="rgb(20,20,225)" fill-opacity="0.72"/>
<circle cx="256.7" cy="187.9" r="1.15" fill="rgb(20,20,225)" fill-opacity="0.72"/>
<circle cx="258.4" cy="176.1" r="1.15" fill="rgb(20,20,225)" fill-opacity="0.72"/>
<circle cx="259.5" cy="179.8" r="1.15" fill="rgb(20,20,225)" fill-opacity="0.72"/>
<circle cx="260.5" cy="183.9" r="1.15" fill="rgb(20,20,225)" fill-opacity="0.72"/>
<circle cx="263.6" cy="209.8" r="1.15" fill="rgb(20,20,225)" fill-opacity="0.72"/>
<circle cx="265.3" cy="177.0" r="1.15" fill="rgb(20,20,225)" fill-opacity="0.72"/>
<circle cx="266.7" cy="180.5" r="1.15" fill="rgb(20,20,225)" fill-opacity="0.72"/>
<circle cx="268.8" cy="176.0" r="1.15" fill="rgb(20,20,225)" fill-opacity="0.72"/>
<circle cx="270.2" cy="195.4" r="1.15" fill="rgb(20,20,225)" fill-opacity="0.72"/>
<circle cx="272.3" cy="179.9" r="1.15" fill="rgb(20,20,225)" fill-opacity="0.72"/>
<circle cx="274.5" cy="191.1" r="1.15" fill="rgb(20,20,225)" fill-opacity="0.72"/>
<circle cx="276.2" cy="181.2" r="1.15" fill="rgb(20,20,225)" fill-opacity="0.72"/>
<circle cx="278.0" cy="185.0" r="1.15" fill="rgb(20,20,225)" fill-opacity="0.72"/>
<circle cx="279.3" cy="176.0" r="1.15" fill="rgb(20,20,225)" fill-opacity="0.72"/>
<circle cx="281.5" cy="176.0" r="1.15" fill="rgb(20,20,225)" fill-opacity="0.72"/>
<circle cx="283.3" cy="183.6" r="1.15" fill="rgb(20,20,225)" fill-opacity="0.72"/>
<circle cx="285.5" cy="191.3" r="1.15" fill="rgb(20,20,225)" fill-opacity="0.72"/>
<circle cx="287.6" cy="180.1" r="1.15" fill="rgb(20,20,225)" fill-opacity="0.72"/>
<circle cx="289.0" cy="176.0" r="1.15" fill="rgb(20,20,225)" fill-opacity="0.72"/>
<circle cx="290.5" cy="176.0" r="1.15" fill="rgb(20,20,225)" fill-opacity="0.72"/>
<circle cx="291.8" cy="184.5" r="1.15" fill="rgb(20,20,225)" fill-opacity="0.72"/>
<circle cx="293.1" cy="176.0" r="1.15" fill="rgb(20,20,225)" fill-opacity="0.72"/>
<circle cx="294.2" cy="189.8" r="1.15" fill="rgb(20,20,225)" fill-opacity="0.72"/>
<circle cx="295.7" cy="176.0" r="1.15" fill="rgb(20,20,225)" fill-opacity="0.72"/>
<circle cx="297.4" cy="178.3" r="1.15" fill="rgb(20,20,225)" fill-opacity="0.72"/>
<circle cx="298.4" cy="190.8" r="1.15" fill="rgb(20,20,225)" fill-opacity="0.72"/>
<circle cx="301.0" cy="184.6" r="1.15" fill="rgb(20,20,225)" fill-opacity="0.72"/>
<circle cx="302.9" cy="176.0" r="1.15" fill="rgb(20,20,225)" fill-opacity="0.72"/>
<circle cx="304.7" cy="176.0" r="1.15" fill="rgb(20,20,225)" fill-opacity="0.72"/>
<circle cx="307.3" cy="176.0" r="1.15" fill="rgb(20,20,225)" fill-opacity="0.72"/>
<circle cx="309.3" cy="176.0" r="1.15" fill="rgb(20,20,225)" fill-opacity="0.72"/>
<circle cx="311.2" cy="176.0" r="1.15" fill="rgb(20,20,225)" fill-opacity="0.72"/>
<circle cx="313.2" cy="176.0" r="1.15" fill="rgb(20,20,225)" fill-opacity="0.72"/>
<circle cx="315.6" cy="176.0" r="1.15" fill="rgb(20,20,225)" fill-opacity="0.72"/>
<circle cx="317.1" cy="176.1" r="1.15" fill="rgb(20,20,225)" fill-opacity="0.72"/>
<circle cx="319.9" cy="176.0" r="1.15" fill="rgb(20,20,225)" fill-opacity="0.72"/>
<circle cx="321.3" cy="182.9" r="1.15" fill="rgb(20,20,225)" fill-opacity="0.72"/>
<circle cx="323.8" cy="176.0" r="1.15" fill="rgb(20,20,225)" fill-opacity="0.72"/>
<circle cx="326.3" cy="176.0" r="1.15" fill="rgb(20,20,225)" fill-opacity="0.72"/>
<circle cx="327.8" cy="185.7" r="1.15" fill="rgb(20,20,225)" fill-opacity="0.72"/>
<circle cx="330.3" cy="181.7" r="1.15" fill="rgb(20,20,225)" fill-opacity="0.72"/>
<circle cx="333.0" cy="177.6" r="1.15" fill="rgb(20,20,225)" fill-opacity="0.72"/>
<circle cx="335.5" cy="176.0" r="1.15" fill="rgb(20,20,225)" fill-opacity="0.72"/>
<circle cx="337.1" cy="176.0" r="1.15" fill="rgb(20,20,225)" fill-opacity="0.72"/>
<circle cx="338.8" cy="180.5" r="1.15" fill="rgb(20,20,225)" fill-opacity="0.72"/>
<circle cx="340.7" cy="176.0" r="1.15" fill="rgb(20,20,225)" fill-opacity="0.72"/>
<circle cx="343.6" cy="193.0" r="1.15" fill="rgb(20,20,225)" fill-opacity="0.72"/>
<circle cx="345.7" cy="176.0" r="1.15" fill="rgb(20,20,225)" fill-opacity="0.72"/>
<circle cx="348.6" cy="176.9" r="1.15" fill="rgb(20,20,225)" fill-opacity="0.72"/>
<circle cx="351.6" cy="182.4" r="1.15" fill="rgb(20,20,225)" fill-opacity="0.72"/>
<circle cx="354.8" cy="176.0" r="1.15" fill="rgb(20,20,225)" fill-opacity="0.72"/>
<circle cx="356.9" cy="176.3" r="1.15" fill="rgb(20,20,225)" fill-opacity="0.72"/>
<circle cx="359.1" cy="176.0" r="1.15" fill="rgb(20,20,225)" fill-opacity="0.72"/>
<circle cx="361.5" cy="176.0" r="1.15" fill="rgb(20,20,225)" fill-opacity="0.72"/>
<circle cx="366.0" cy="180.4" r="1.15" fill="rgb(20,20,225)" fill-opacity="0.72"/>
<circle cx="371.9" cy="212.1" r="1.15" fill="rgb(20,20,225)" fill-opacity="0.72"/>
<circle cx="385.4" cy="176.0" r="1.15" fill="rgb(20,20,225)" fill-opacity="0.72"/>
<circle cx="395.2" cy="176.0" r="1.15" fill="rgb(20,20,225)" fill-opacity="0.72"/>
<circle cx="397.5" cy="176.0" r="1.15" fill="rgb(20,20,225)" fill-opacity="0.72"/>
<circle cx="408.4" cy="194.8" r="1.15" fill="rgb(20,20,225)" fill-opacity="0.72"/>
<circle cx="413.0" cy="176.0" r="1.15" fill="rgb(20,20,225)" fill-opacity="0.72"/>
<circle cx="426.3" cy="176.0" r="1.15" fill="rgb(20,20,225)" fill-opacity="0.72"/>
<circle cx="432.0" cy="176.0" r="1.15" fill="rgb(20,20,225)" fill-opacity="0.72"/>
<circle cx="437.0" cy="176.0" r="1.15" fill="rgb(20,20,225)" fill-opacity="0.72"/>
<circle cx="449.6" cy="192.7" r="1.15" fill="rgb(20,20,225)" fill-opacity="0.72"/>
<circle cx="454.3" cy="176.0" r="1.15" fill="rgb(20,20,225)" fill-opacity="0.72"/>
<circle cx="473.8" cy="244.2" r="1.15" fill="rgb(20,20,225)" fill-opacity="0.72"/>
<circle cx="476.6" cy="244.2" r="1.15" fill="rgb(20,20,225)" fill-opacity="0.72"/>
<circle cx="479.3" cy="244.2" r="1.15" fill="rgb(20,20,225)" fill-opacity="0.72"/>
<circle cx="483.0" cy="244.2" r="1.15" fill="rgb(20,20,225)" fill-opacity="0.72"/>
<circle cx="489.4" cy="193.0" r="1.15" fill="rgb(20,20,225)" fill-opacity="0.72"/>
<circle cx="494.8" cy="176.0" r="1.15" fill="rgb(20,20,225)" fill-opacity="0.72"/>
<circle cx="89.3" cy="198.4" r="1.15" fill="rgb(20,20,225)" fill-opacity="0.72"/>
<circle cx="106.2" cy="183.1" r="1.15" fill="rgb(20,20,225)" fill-opacity="0.72"/>
<circle cx="108.1" cy="185.0" r="1.15" fill="rgb(20,20,225)" fill-opacity="0.72"/>
<circle cx="121.0" cy="176.0" r="1.15" fill="rgb(20,20,225)" fill-opacity="0.72"/>
<circle cx="123.0" cy="183.5" r="1.15" fill="rgb(20,20,225)" fill-opacity="0.72"/>
<circle cx="133.4" cy="176.0" r="1.15" fill="rgb(20,20,225)" fill-opacity="0.72"/>
<circle cx="143.0" cy="176.0" r="1.15" fill="rgb(20,20,225)" fill-opacity="0.72"/>
<circle cx="147.5" cy="176.0" r="1.15" fill="rgb(20,20,225)" fill-opacity="0.72"/>
<circle cx="152.6" cy="176.0" r="1.15" fill="rgb(20,20,225)" fill-opacity="0.72"/>
<circle cx="167.0" cy="176.0" r="1.15" fill="rgb(20,20,225)" fill-opacity="0.72"/>
<circle cx="179.8" cy="176.0" r="1.15" fill="rgb(20,20,225)" fill-opacity="0.72"/>
<circle cx="184.6" cy="176.0" r="1.15" fill="rgb(20,20,225)" fill-opacity="0.72"/>
<circle cx="194.2" cy="176.0" r="1.15" fill="rgb(20,20,225)" fill-opacity="0.72"/>
<circle cx="197.3" cy="187.2" r="1.15" fill="rgb(20,20,225)" fill-opacity="0.72"/>
<circle cx="199.5" cy="180.8" r="1.15" fill="rgb(20,20,225)" fill-opacity="0.72"/>
<circle cx="202.0" cy="180.6" r="1.15" fill="rgb(20,20,225)" fill-opacity="0.72"/>
<circle cx="219.7" cy="185.0" r="1.15" fill="rgb(20,20,225)" fill-opacity="0.72"/>
<circle cx="221.0" cy="200.9" r="1.15" fill="rgb(20,20,225)" fill-opacity="0.72"/>
<circle cx="222.6" cy="176.0" r="1.15" fill="rgb(20,20,225)" fill-opacity="0.72"/>
<circle cx="224.4" cy="176.0" r="1.15" fill="rgb(20,20,225)" fill-opacity="0.72"/>
<circle cx="226.2" cy="190.2" r="1.15" fill="rgb(20,20,225)" fill-opacity="0.72"/>
<circle cx="228.1" cy="182.9" r="1.15" fill="rgb(20,20,225)" fill-opacity="0.72"/>
<circle cx="229.8" cy="197.1" r="1.15" fill="rgb(20,20,225)" fill-opacity="0.72"/>
<circle cx="231.8" cy="187.5" r="1.15" fill="rgb(20,20,225)" fill-opacity="0.72"/>
<circle cx="232.8" cy="202.8" r="1.15" fill="rgb(20,20,225)" fill-opacity="0.72"/>
<circle cx="234.3" cy="177.2" r="1.15" fill="rgb(20,20,225)" fill-opacity="0.72"/>
<circle cx="236.2" cy="197.3" r="1.15" fill="rgb(20,20,225)" fill-opacity="0.72"/>
<circle cx="237.9" cy="176.0" r="1.15" fill="rgb(20,20,225)" fill-opacity="0.72"/>
<circle cx="238.5" cy="186.7" r="1.15" fill="rgb(20,20,225)" fill-opacity="0.72"/>
<circle cx="239.6" cy="181.1" r="1.15" fill="rgb(20,20,225)" fill-opacity="0.72"/>
<circle cx="241.1" cy="188.5" r="1.15" fill="rgb(20,20,225)" fill-opacity="0.72"/>
<circle cx="242.3" cy="181.1" r="1.15" fill="rgb(20,20,225)" fill-opacity="0.72"/>
<circle cx="243.9" cy="191.2" r="1.15" fill="rgb(20,20,225)" fill-opacity="0.72"/>
<circle cx="245.4" cy="193.5" r="1.15" fill="rgb(20,20,225)" fill-opacity="0.72"/>
<circle cx="246.5" cy="184.2" r="1.15" fill="rgb(20,20,225)" fill-opacity="0.72"/>
<circle cx="247.7" cy="178.1" r="1.15" fill="rgb(20,20,225)" fill-opacity="0.72"/>
<circle cx="249.0" cy="192.7" r="1.15" fill="rgb(20,20,225)" fill-opacity="0.72"/>
<circle cx="250.9" cy="187.6" r="1.15" fill="rgb(20,20,225)" fill-opacity="0.72"/>
<circle cx="252.0" cy="200.9" r="1.15" fill="rgb(20,20,225)" fill-opacity="0.72"/>
<circle cx="253.8" cy="176.0" r="1.15" fill="rgb(20,20,225)" fill-opacity="0.72"/>
<circle cx="255.6" cy="185.4" r="1.15" fill="rgb(20,20,225)" fill-opacity="0.72"/>
<circle cx="256.7" cy="182.4" r="1.15" fill="rgb(20,20,225)" fill-opacity="0.72"/>
<circle cx="258.4" cy="189.3" r="1.15" fill="rgb(20,20,225)" fill-opacity="0.72"/>
<circle cx="259.5" cy="188.1" r="1.15" fill="rgb(20,20,225)" fill-opacity="0.72"/>
<circle cx="260.5" cy="176.0" r="1.15" fill="rgb(20,20,225)" fill-opacity="0.72"/>
<circle cx="263.6" cy="203.0" r="1.15" fill="rgb(20,20,225)" fill-opacity="0.72"/>
<circle cx="265.3" cy="188.5" r="1.15" fill="rgb(20,20,225)" fill-opacity="0.72"/>
<circle cx="266.7" cy="178.4" r="1.15" fill="rgb(20,20,225)" fill-opacity="0.72"/>
<circle cx="268.8" cy="181.6" r="1.15" fill="rgb(20,20,225)" fill-opacity="0.72"/>
<circle cx="270.9" cy="176.0" r="1.15" fill="rgb(20,20,225)" fill-opacity="0.72"/>
<circle cx="272.3" cy="176.0" r="1.15" fill="rgb(20,20,225)" fill-opacity="0.72"/>
<circle cx="274.5" cy="181.6" r="1.15" fill="rgb(20,20,225)" fill-opacity="0.72"/>
<circle cx="276.2" cy="176.0" r="1.15" fill="rgb(20,20,225)" fill-opacity="0.72"/>
<circle cx="278.0" cy="176.9" r="1.15" fill="rgb(20,20,225)" fill-opacity="0.72"/>
<circle cx="279.3" cy="180.9" r="1.15" fill="rgb(20,20,225)" fill-opacity="0.72"/>
<circle cx="281.5" cy="176.0" r="1.15" fill="rgb(20,20,225)" fill-opacity="0.72"/>
<circle cx="282.9" cy="198.3" r="1.15" fill="rgb(20,20,225)" fill-opacity="0.72"/>
<circle cx="285.5" cy="176.0" r="1.15" fill="rgb(20,20,225)" fill-opacity="0.72"/>
<circle cx="287.6" cy="178.6" r="1.15" fill="rgb(20,20,225)" fill-opacity="0.72"/>
<circle cx="289.0" cy="186.2" r="1.15" fill="rgb(20,20,225)" fill-opacity="0.72"/>
<circle cx="290.5" cy="176.0" r="1.15" fill="rgb(20,20,225)" fill-opacity="0.72"/>
<circle cx="291.8" cy="176.0" r="1.15" fill="rgb(20,20,225)" fill-opacity="0.72"/>
<circle cx="293.1" cy="176.0" r="1.15" fill="rgb(20,20,225)" fill-opacity="0.72"/>
<circle cx="294.2" cy="178.8" r="1.15" fill="rgb(20,20,225)" fill-opacity="0.72"/>
<circle cx="295.7" cy="181.3" r="1.15" fill="rgb(20,20,225)" fill-opacity="0.72"/>
<circle cx="297.4" cy="183.3" r="1.15" fill="rgb(20,20,225)" fill-opacity="0.72"/>
<circle cx="298.5" cy="176.9" r="1.15" fill="rgb(20,20,225)" fill-opacity="0.72"/>
<circle cx="301.0" cy="176.0" r="1.15" fill="rgb(20,20,225)" fill-opacity="0.72"/>
<circle cx="302.9" cy="176.8" r="1.15" fill="rgb(20,20,225)" fill-opacity="0.72"/>
<circle cx="304.7" cy="176.0" r="1.15" fill="rgb(20,20,225)" fill-opacity="0.72"/>
<circle cx="307.3" cy="181.2" r="1.15" fill="rgb(20,20,225)" fill-opacity="0.72"/>
<circle cx="309.3" cy="176.0" r="1.15" fill="rgb(20,20,225)" fill-opacity="0.72"/>
<circle cx="311.2" cy="176.0" r="1.15" fill="rgb(20,20,225)" fill-opacity="0.72"/>
<circle cx="313.2" cy="176.4" r="1.15" fill="rgb(20,20,225)" fill-opacity="0.72"/>
<circle cx="315.7" cy="187.3" r="1.15" fill="rgb(20,20,225)" fill-opacity="0.72"/>
<circle cx="317.1" cy="176.0" r="1.15" fill="rgb(20,20,225)" fill-opacity="0.72"/>
<circle cx="319.9" cy="176.0" r="1.15" fill="rgb(20,20,225)" fill-opacity="0.72"/>
<circle cx="321.3" cy="176.0" r="1.15" fill="rgb(20,20,225)" fill-opacity="0.72"/>
<circle cx="323.8" cy="176.0" r="1.15" fill="rgb(20,20,225)" fill-opacity="0.72"/>
<circle cx="326.3" cy="176.0" r="1.15" fill="rgb(20,20,225)" fill-opacity="0.72"/>
<circle cx="327.8" cy="176.0" r="1.15" fill="rgb(20,20,225)" fill-opacity="0.72"/>
<circle cx="330.3" cy="176.0" r="1.15" fill="rgb(20,20,225)" fill-opacity="0.72"/>
<circle cx="333.0" cy="176.0" r="1.15" fill="rgb(20,20,225)" fill-opacity="0.72"/>
<circle cx="334.4" cy="189.0" r="1.15" fill="rgb(20,20,225)" fill-opacity="0.72"/>
<circle cx="337.1" cy="176.0" r="1.15" fill="rgb(20,20,225)" fill-opacity="0.72"/>
<circle cx="338.8" cy="176.1" r="1.15" fill="rgb(20,20,225)" fill-opacity="0.72"/>
<circle cx="340.7" cy="176.1" r="1.15" fill="rgb(20,20,225)" fill-opacity="0.72"/>
<circle cx="343.8" cy="176.0" r="1.15" fill="rgb(20,20,225)" fill-opacity="0.72"/>
<circle cx="345.7" cy="181.6" r="1.15" fill="rgb(20,20,225)" fill-opacity="0.72"/>
<circle cx="348.6" cy="176.0" r="1.15" fill="rgb(20,20,225)" fill-opacity="0.72"/>
<circle cx="351.6" cy="176.0" r="1.15" fill="rgb(20,20,225)" fill-opacity="0.72"/>
<circle cx="354.8" cy="181.4" r="1.15" fill="rgb(20,20,225)" fill-opacity="0.72"/>
<circle cx="356.9" cy="176.5" r="1.15" fill="rgb(20,20,225)" fill-opacity="0.72"/>
<circle cx="359.1" cy="176.0" r="1.15" fill="rgb(20,20,225)" fill-opacity="0.72"/>
<circle cx="361.5" cy="176.0" r="1.15" fill="rgb(20,20,225)" fill-opacity="0.72"/>
<circle cx="367.0" cy="185.0" r="1.15" fill="rgb(20,20,225)" fill-opacity="0.72"/>
<circle cx="371.3" cy="204.6" r="1.15" fill="rgb(20,20,225)" fill-opacity="0.72"/>
<circle cx="385.4" cy="176.0" r="1.15" fill="rgb(20,20,225)" fill-opacity="0.72"/>
<circle cx="397.5" cy="194.2" r="1.15" fill="rgb(20,20,225)" fill-opacity="0.72"/>
<circle cx="407.9" cy="176.0" r="1.15" fill="rgb(20,20,225)" fill-opacity="0.72"/>
<circle cx="414.8" cy="182.1" r="1.15" fill="rgb(20,20,225)" fill-opacity="0.72"/>
<circle cx="426.3" cy="179.8" r="1.15" fill="rgb(20,20,225)" fill-opacity="0.72"/>
<circle cx="432.0" cy="183.8" r="1.15" fill="rgb(20,20,225)" fill-opacity="0.72"/>
<circle cx="437.0" cy="188.0" r="1.15" fill="rgb(20,20,225)" fill-opacity="0.72"/>
<circle cx="450.0" cy="193.0" r="1.15" fill="rgb(20,20,225)" fill-opacity="0.72"/>
<circle cx="450.0" cy="196.7" r="1.15" fill="rgb(20,20,225)" fill-opacity="0.72"/>
<circle cx="453.7" cy="210.4" r="1.15" fill="rgb(20,20,225)" fill-opacity="0.72"/>
<circle cx="476.6" cy="244.2" r="1.15" fill="rgb(20,20,225)" fill-opacity="0.72"/>
<circle cx="477.5" cy="225.0" r="1.15" fill="rgb(20,20,225)" fill-opacity="0.72"/>
<circle cx="479.3" cy="236.0" r="1.15" fill="rgb(20,20,225)" fill-opacity="0.72"/>
<circle cx="483.0" cy="244.2" r="1.15" fill="rgb(20,20,225)" fill-opacity="0.72"/>
<circle cx="489.4" cy="230.5" r="1.15" fill="rgb(20,20,225)" fill-opacity="0.72"/>
<circle cx="494.8" cy="193.0" r="1.15" fill="rgb(20,20,225)" fill-opacity="0.72"/>
<circle cx="108.1" cy="196.5" r="1.15" fill="rgb(20,20,225)" fill-opacity="0.72"/>
<circle cx="113.8" cy="186.4" r="1.15" fill="rgb(20,20,225)" fill-opacity="0.72"/>
<circle cx="121.0" cy="187.4" r="1.15" fill="rgb(20,20,225)" fill-opacity="0.72"/>
<circle cx="133.4" cy="176.0" r="1.15" fill="rgb(20,20,225)" fill-opacity="0.72"/>
<circle cx="143.0" cy="176.0" r="1.15" fill="rgb(20,20,225)" fill-opacity="0.72"/>
<circle cx="152.6" cy="176.0" r="1.15" fill="rgb(20,20,225)" fill-opacity="0.72"/>
<circle cx="167.0" cy="176.0" r="1.15" fill="rgb(20,20,225)" fill-opacity="0.72"/>
<circle cx="179.8" cy="176.0" r="1.15" fill="rgb(20,20,225)" fill-opacity="0.72"/>
<circle cx="184.6" cy="176.0" r="1.15" fill="rgb(20,20,225)" fill-opacity="0.72"/>
<circle cx="194.2" cy="176.0" r="1.15" fill="rgb(20,20,225)" fill-opacity="0.72"/>
<circle cx="197.3" cy="176.0" r="1.15" fill="rgb(20,20,225)" fill-opacity="0.72"/>
<circle cx="202.9" cy="176.0" r="1.15" fill="rgb(20,20,225)" fill-opacity="0.72"/>
<circle cx="219.7" cy="182.6" r="1.15" fill="rgb(20,20,225)" fill-opacity="0.72"/>
<circle cx="221.0" cy="196.9" r="1.15" fill="rgb(20,20,225)" fill-opacity="0.72"/>
<circle cx="222.6" cy="193.3" r="1.15" fill="rgb(20,20,225)" fill-opacity="0.72"/>
<circle cx="224.4" cy="176.0" r="1.15" fill="rgb(20,20,225)" fill-opacity="0.72"/>
<circle cx="226.2" cy="179.3" r="1.15" fill="rgb(20,20,225)" fill-opacity="0.72"/>
<circle cx="228.1" cy="182.5" r="1.15" fill="rgb(20,20,225)" fill-opacity="0.72"/>
<circle cx="229.8" cy="198.0" r="1.15" fill="rgb(20,20,225)" fill-opacity="0.72"/>
<circle cx="231.8" cy="197.5" r="1.15" fill="rgb(20,20,225)" fill-opacity="0.72"/>
<circle cx="232.8" cy="186.7" r="1.15" fill="rgb(20,20,225)" fill-opacity="0.72"/>
<circle cx="234.3" cy="186.5" r="1.15" fill="rgb(20,20,225)" fill-opacity="0.72"/>
<circle cx="236.2" cy="176.0" r="1.15" fill="rgb(20,20,225)" fill-opacity="0.72"/>
<circle cx="237.9" cy="179.2" r="1.15" fill="rgb(20,20,225)" fill-opacity="0.72"/>
<circle cx="238.5" cy="176.0" r="1.15" fill="rgb(20,20,225)" fill-opacity="0.72"/>
<circle cx="239.6" cy="176.0" r="1.15" fill="rgb(20,20,225)" fill-opacity="0.72"/>
<circle cx="241.1" cy="178.1" r="1.15" fill="rgb(20,20,225)" fill-opacity="0.72"/>
<circle cx="242.3" cy="184.2" r="1.15" fill="rgb(20,20,225)" fill-opacity="0.72"/>
<circle cx="243.9" cy="176.0" r="1.15" fill="rgb(20,20,225)" fill-opacity="0.72"/>
<circle cx="245.4" cy="178.2" r="1.15" fill="rgb(20,20,225)" fill-opacity="0.72"/>
<circle cx="246.5" cy="176.0" r="1.15" fill="rgb(20,20,225)" fill-opacity="0.72"/>
<circle cx="247.7" cy="176.0" r="1.15" fill="rgb(20,20,225)" fill-opacity="0.72"/>
<circle cx="249.0" cy="176.0" r="1.15" fill="rgb(20,20,225)" fill-opacity="0.72"/>
<circle cx="250.9" cy="176.0" r="1.15" fill="rgb(20,20,225)" fill-opacity="0.72"/>
<circle cx="252.6" cy="176.0" r="1.15" fill="rgb(20,20,225)" fill-opacity="0.72"/>
<circle cx="253.8" cy="176.0" r="1.15" fill="rgb(20,20,225)" fill-opacity="0.72"/>
<circle cx="255.6" cy="180.3" r="1.15" fill="rgb(20,20,225)" fill-opacity="0.72"/>
<circle cx="256.7" cy="183.6" r="1.15" fill="rgb(20,20,225)" fill-opacity="0.72"/>
<circle cx="258.4" cy="176.0" r="1.15" fill="rgb(20,20,225)" fill-opacity="0.72"/>
<circle cx="259.5" cy="176.0" r="1.15" fill="rgb(20,20,225)" fill-opacity="0.72"/>
<circle cx="260.5" cy="176.0" r="1.15" fill="rgb(20,20,225)" fill-opacity="0.72"/>
<circle cx="263.6" cy="196.0" r="1.15" fill="rgb(20,20,225)" fill-opacity="0.72"/>
<circle cx="265.3" cy="178.6" r="1.15" fill="rgb(20,20,225)" fill-opacity="0.72"/>
<circle cx="266.7" cy="176.0" r="1.15" fill="rgb(20,20,225)" fill-opacity="0.72"/>
<circle cx="268.8" cy="180.1" r="1.15" fill="rgb(20,20,225)" fill-opacity="0.72"/>
<circle cx="270.9" cy="176.0" r="1.15" fill="rgb(20,20,225)" fill-opacity="0.72"/>
<circle cx="272.3" cy="181.7" r="1.15" fill="rgb(20,20,225)" fill-opacity="0.72"/>
<circle cx="274.5" cy="176.0" r="1.15" fill="rgb(20,20,225)" fill-opacity="0.72"/>
<circle cx="276.2" cy="176.0" r="1.15" fill="rgb(20,20,225)" fill-opacity="0.72"/>
<circle cx="278.0" cy="176.0" r="1.15" fill="rgb(20,20,225)" fill-opacity="0.72"/>
<circle cx="279.3" cy="186.2" r="1.15" fill="rgb(20,20,225)" fill-opacity="0.72"/>
<circle cx="281.5" cy="176.0" r="1.15" fill="rgb(20,20,225)" fill-opacity="0.72"/>
<circle cx="283.3" cy="179.7" r="1.15" fill="rgb(20,20,225)" fill-opacity="0.72"/>
<circle cx="285.5" cy="183.4" r="1.15" fill="rgb(20,20,225)" fill-opacity="0.72"/>
<circle cx="287.6" cy="180.3" r="1.15" fill="rgb(20,20,225)" fill-opacity="0.72"/>
<circle cx="289.0" cy="179.2" r="1.15" fill="rgb(20,20,225)" fill-opacity="0.72"/>
<circle cx="290.5" cy="176.0" r="1.15" fill="rgb(20,20,225)" fill-opacity="0.72"/>
<circle cx="291.8" cy="177.2" r="1.15" fill="rgb(20,20,225)" fill-opacity="0.72"/>
<circle cx="293.1" cy="176.0" r="1.15" fill="rgb(20,20,225)" fill-opacity="0.72"/>
<circle cx="294.2" cy="176.3" r="1.15" fill="rgb(20,20,225)" fill-opacity="0.72"/>
<circle cx="295.7" cy="183.2" r="1.15" fill="rgb(20,20,225)" fill-opacity="0.72"/>
<circle cx="297.4" cy="176.0" r="1.15" fill="rgb(20,20,225)" fill-opacity="0.72"/>
<circle cx="298.5" cy="176.0" r="1.15" fill="rgb(20,20,225)" fill-opacity="0.72"/>
<circle cx="301.0" cy="176.0" r="1.15" fill="rgb(20,20,225)" fill-opacity="0.72"/>
<circle cx="302.9" cy="176.0" r="1.15" fill="rgb(20,20,225)" fill-opacity="0.72"/>
<circle cx="304.7" cy="176.0" r="1.15" fill="rgb(20,20,225)" fill-opacity="0.72"/>
<circle cx="307.3" cy="176.4" r="1.15" fill="rgb(20,20,225)" fill-opacity="0.72"/>
<circle cx="309.3" cy="176.0" r="1.15" fill="rgb(20,20,225)" fill-opacity="0.72"/>
<circle cx="311.2" cy="176.0" r="1.15" fill="rgb(20,20,225)" fill-opacity="0.72"/>
<circle cx="313.2" cy="176.0" r="1.15" fill="rgb(20,20,225)" fill-opacity="0.72"/>
<circle cx="315.6" cy="176.0" r="1.15" fill="rgb(20,20,225)" fill-opacity="0.72"/>
<circle cx="317.1" cy="177.8" r="1.15" fill="rgb(20,20,225)" fill-opacity="0.72"/>
<circle cx="319.9" cy="176.0" r="1.15" fill="rgb(20,20,225)" fill-opacity="0.72"/>
<circle cx="321.0" cy="181.5" r="1.15" fill="rgb(20,20,225)" fill-opacity="0.72"/>
<circle cx="323.8" cy="176.0" r="1.15" fill="rgb(20,20,225)" fill-opacity="0.72"/>
<circle cx="326.3" cy="176.0" r="1.15" fill="rgb(20,20,225)" fill-opacity="0.72"/>
<circle cx="327.8" cy="176.0" r="1.15" fill="rgb(20,20,225)" fill-opacity="0.72"/>
<circle cx="330.3" cy="179.3" r="1.15" fill="rgb(20,20,225)" fill-opacity="0.72"/>
<circle cx="333.0" cy="176.0" r="1.15" fill="rgb(20,20,225)" fill-opacity="0.72"/>
<circle cx="335.5" cy="176.0" r="1.15" fill="rgb(20,20,225)" fill-opacity="0.72"/>
<circle cx="337.1" cy="176.0" r="1.15" fill="rgb(20,20,225)" fill-opacity="0.72"/>
<circle cx="338.8" cy="176.0" r="1.15" fill="rgb(20,20,225)" fill-opacity="0.72"/>
<circle cx="340.7" cy="176.0" r="1.15" fill="rgb(20,20,225)" fill-opacity="0.72"/>
<circle cx="343.8" cy="176.0" r="1.15" fill="rgb(20,20,225)" fill-opacity="0.72"/>
<circle cx="345.7" cy="180.2" r="1.15" fill="rgb(20,20,225)" fill-opacity="0.72"/>
<circle cx="348.6" cy="178.3" r="1.15" fill="rgb(20,20,225)" fill-opacity="0.72"/>
<circle cx="351.6" cy="179.0" r="1.15" fill="rgb(20,20,225)" fill-opacity="0.72"/>
<circle cx="353.3" cy="183.3" r="1.15" fill="rgb(20,20,225)" fill-opacity="0.72"/>
<circle cx="356.9" cy="176.0" r="1.15" fill="rgb(20,20,225)" fill-opacity="0.72"/>
<circle cx="359.1" cy="176.0" r="1.15" fill="rgb(20,20,225)" fill-opacity="0.72"/>
<circle cx="361.5" cy="176.0" r="1.15" fill="rgb(20,20,225)" fill-opacity="0.72"/>
<circle cx="362.0" cy="187.3" r="1.15" fill="rgb(20,20,225)" fill-opacity="0.72"/>
<circle cx="371.9" cy="182.7" r="1.15" fill="rgb(20,20,225)" fill-opacity="0.72"/>
<circle cx="385.4" cy="176.0" r="1.15" fill="rgb(20,20,225)" fill-opacity="0.72"/>
<circle cx="398.6" cy="176.0" r="1.15" fill="rgb(20,20,225)" fill-opacity="0.72"/>
<circle cx="407.9" cy="176.0" r="1.15" fill="rgb(20,20,225)" fill-opacity="0.72"/>
<circle cx="411.9" cy="180.4" r="1.15" fill="rgb(20,20,225)" fill-opacity="0.72"/>
<circle cx="426.3" cy="176.0" r="1.15" fill="rgb(20,20,225)" fill-opacity="0.72"/>
<circle cx="427.5" cy="185.6" r="1.15" fill="rgb(20,20,225)" fill-opacity="0.72"/>
<circle cx="433.2" cy="187.3" r="1.15" fill="rgb(20,20,225)" fill-opacity="0.72"/>
<circle cx="437.0" cy="193.9" r="1.15" fill="rgb(20,20,225)" fill-opacity="0.72"/>
<circle cx="437.0" cy="198.5" r="1.15" fill="rgb(20,20,225)" fill-opacity="0.72"/>
<circle cx="437.0" cy="210.0" r="1.15" fill="rgb(20,20,225)" fill-opacity="0.72"/>
<circle cx="450.0" cy="221.4" r="1.15" fill="rgb(20,20,225)" fill-opacity="0.72"/>
<circle cx="453.7" cy="219.5" r="1.15" fill="rgb(20,20,225)" fill-opacity="0.72"/>
<circle cx="474.0" cy="244.2" r="1.15" fill="rgb(20,20,225)" fill-opacity="0.72"/>
<circle cx="477.5" cy="216.8" r="1.15" fill="rgb(20,20,225)" fill-opacity="0.72"/>
<circle cx="477.5" cy="232.3" r="1.15" fill="rgb(20,20,225)" fill-opacity="0.72"/>
<circle cx="483.0" cy="239.6" r="1.15" fill="rgb(20,20,225)" fill-opacity="0.72"/>
<circle cx="489.4" cy="244.2" r="1.15" fill="rgb(20,20,225)" fill-opacity="0.72"/>
<circle cx="490.3" cy="226.8" r="1.15" fill="rgb(20,20,225)" fill-opacity="0.72"/>
<circle cx="494.8" cy="176.0" r="1.15" fill="rgb(20,20,225)" fill-opacity="0.72"/>
<circle cx="221.0" cy="184.6" r="1.15" fill="rgb(20,20,225)" fill-opacity="0.72"/>
<circle cx="221.9" cy="198.7" r="1.15" fill="rgb(20,20,225)" fill-opacity="0.72"/>
<circle cx="223.2" cy="196.6" r="1.15" fill="rgb(20,20,225)" fill-opacity="0.72"/>
<circle cx="224.4" cy="183.0" r="1.15" fill="rgb(20,20,225)" fill-opacity="0.72"/>
<circle cx="225.6" cy="194.4" r="1.15" fill="rgb(20,20,225)" fill-opacity="0.72"/>
<circle cx="226.5" cy="202.2" r="1.15" fill="rgb(20,20,225)" fill-opacity="0.72"/>
<circle cx="227.9" cy="187.5" r="1.15" fill="rgb(20,20,225)" fill-opacity="0.72"/>
<circle cx="229.2" cy="186.8" r="1.15" fill="rgb(20,20,225)" fill-opacity="0.72"/>
<circle cx="230.4" cy="193.6" r="1.15" fill="rgb(20,20,225)" fill-opacity="0.72"/>
<circle cx="231.6" cy="191.5" r="1.15" fill="rgb(20,20,225)" fill-opacity="0.72"/>
<circle cx="232.5" cy="188.2" r="1.15" fill="rgb(20,20,225)" fill-opacity="0.72"/>
<circle cx="233.3" cy="183.0" r="1.15" fill="rgb(20,20,225)" fill-opacity="0.72"/>
<circle cx="234.4" cy="189.3" r="1.15" fill="rgb(20,20,225)" fill-opacity="0.72"/>
<circle cx="235.6" cy="188.7" r="1.15" fill="rgb(20,20,225)" fill-opacity="0.72"/>
<circle cx="236.4" cy="201.3" r="1.15" fill="rgb(20,20,225)" fill-opacity="0.72"/>
<circle cx="237.8" cy="199.1" r="1.15" fill="rgb(20,20,225)" fill-opacity="0.72"/>
<circle cx="239.0" cy="191.6" r="1.15" fill="rgb(20,20,225)" fill-opacity="0.72"/>
<circle cx="240.0" cy="186.5" r="1.15" fill="rgb(20,20,225)" fill-opacity="0.72"/>
<circle cx="241.1" cy="190.3" r="1.15" fill="rgb(20,20,225)" fill-opacity="0.72"/>
<circle cx="242.7" cy="178.0" r="1.15" fill="rgb(20,20,225)" fill-opacity="0.72"/>
<circle cx="244.4" cy="193.3" r="1.15" fill="rgb(20,20,225)" fill-opacity="0.72"/>
<circle cx="245.9" cy="178.0" r="1.15" fill="rgb(20,20,225)" fill-opacity="0.72"/>
<circle cx="247.2" cy="188.3" r="1.15" fill="rgb(20,20,225)" fill-opacity="0.72"/>
<circle cx="248.3" cy="187.3" r="1.15" fill="rgb(20,20,225)" fill-opacity="0.72"/>
<circle cx="250.0" cy="184.5" r="1.15" fill="rgb(20,20,225)" fill-opacity="0.72"/>
<circle cx="251.3" cy="192.5" r="1.15" fill="rgb(20,20,225)" fill-opacity="0.72"/>
<circle cx="252.8" cy="179.5" r="1.15" fill="rgb(20,20,225)" fill-opacity="0.72"/>
<circle cx="253.7" cy="178.0" r="1.15" fill="rgb(20,20,225)" fill-opacity="0.72"/>
<circle cx="254.8" cy="178.0" r="1.15" fill="rgb(20,20,225)" fill-opacity="0.72"/>
<circle cx="256.3" cy="180.3" r="1.15" fill="rgb(20,20,225)" fill-opacity="0.72"/>
<circle cx="257.9" cy="188.5" r="1.15" fill="rgb(20,20,225)" fill-opacity="0.72"/>
<circle cx="259.5" cy="186.6" r="1.15" fill="rgb(20,20,225)" fill-opacity="0.72"/>
<circle cx="260.9" cy="185.9" r="1.15" fill="rgb(20,20,225)" fill-opacity="0.72"/>
<circle cx="221.0" cy="197.0" r="1.15" fill="rgb(20,20,225)" fill-opacity="0.72"/>
<circle cx="221.9" cy="192.9" r="1.15" fill="rgb(20,20,225)" fill-opacity="0.72"/>
<circle cx="223.2" cy="188.0" r="1.15" fill="rgb(20,20,225)" fill-opacity="0.72"/>
<circle cx="224.4" cy="199.4" r="1.15" fill="rgb(20,20,225)" fill-opacity="0.72"/>
<circle cx="225.6" cy="191.0" r="1.15" fill="rgb(20,20,225)" fill-opacity="0.72"/>
<circle cx="226.5" cy="191.4" r="1.15" fill="rgb(20,20,225)" fill-opacity="0.72"/>
<circle cx="227.9" cy="191.4" r="1.15" fill="rgb(20,20,225)" fill-opacity="0.72"/>
<circle cx="229.2" cy="183.0" r="1.15" fill="rgb(20,20,225)" fill-opacity="0.72"/>
<circle cx="230.4" cy="196.8" r="1.15" fill="rgb(20,20,225)" fill-opacity="0.72"/>
<circle cx="231.6" cy="193.3" r="1.15" fill="rgb(20,20,225)" fill-opacity="0.72"/>
<circle cx="232.5" cy="194.2" r="1.15" fill="rgb(20,20,225)" fill-opacity="0.72"/>
<circle cx="233.3" cy="188.4" r="1.15" fill="rgb(20,20,225)" fill-opacity="0.72"/>
<circle cx="234.4" cy="194.3" r="1.15" fill="rgb(20,20,225)" fill-opacity="0.72"/>
<circle cx="235.6" cy="187.6" r="1.15" fill="rgb(20,20,225)" fill-opacity="0.72"/>
<circle cx="236.4" cy="190.7" r="1.15" fill="rgb(20,20,225)" fill-opacity="0.72"/>
<circle cx="237.8" cy="190.7" r="1.15" fill="rgb(20,20,225)" fill-opacity="0.72"/>
<circle cx="239.0" cy="180.3" r="1.15" fill="rgb(20,20,225)" fill-opacity="0.72"/>
<circle cx="240.0" cy="183.3" r="1.15" fill="rgb(20,20,225)" fill-opacity="0.72"/>
<circle cx="241.1" cy="185.7" r="1.15" fill="rgb(20,20,225)" fill-opacity="0.72"/>
<circle cx="242.7" cy="178.0" r="1.15" fill="rgb(20,20,225)" fill-opacity="0.72"/>
<circle cx="244.4" cy="190.2" r="1.15" fill="rgb(20,20,225)" fill-opacity="0.72"/>
<circle cx="245.9" cy="189.1" r="1.15" fill="rgb(20,20,225)" fill-opacity="0.72"/>
<circle cx="247.2" cy="178.0" r="1.15" fill="rgb(20,20,225)" fill-opacity="0.72"/>
<circle cx="248.3" cy="178.9" r="1.15" fill="rgb(20,20,225)" fill-opacity="0.72"/>
<circle cx="250.0" cy="180.5" r="1.15" fill="rgb(20,20,225)" fill-opacity="0.72"/>
<circle cx="251.3" cy="181.5" r="1.15" fill="rgb(20,20,225)" fill-opacity="0.72"/>
<circle cx="252.8" cy="182.4" r="1.15" fill="rgb(20,20,225)" fill-opacity="0.72"/>
<circle cx="253.7" cy="178.0" r="1.15" fill="rgb(20,20,225)" fill-opacity="0.72"/>
<circle cx="254.8" cy="182.3" r="1.15" fill="rgb(20,20,225)" fill-opacity="0.72"/>
<circle cx="256.3" cy="182.1" r="1.15" fill="rgb(20,20,225)" fill-opacity="0.72"/>
<circle cx="257.9" cy="185.7" r="1.15" fill="rgb(20,20,225)" fill-opacity="0.72"/>
<circle cx="259.5" cy="179.4" r="1.15" fill="rgb(20,20,225)" fill-opacity="0.72"/>
<circle cx="260.9" cy="185.1" r="1.15" fill="rgb(20,20,225)" fill-opacity="0.72"/>
<circle cx="221.0" cy="188.5" r="1.15" fill="rgb(20,20,225)" fill-opacity="0.72"/>
<circle cx="221.9" cy="184.4" r="1.15" fill="rgb(20,20,225)" fill-opacity="0.72"/>
<circle cx="223.2" cy="195.7" r="1.15" fill="rgb(20,20,225)" fill-opacity="0.72"/>
<circle cx="224.4" cy="194.4" r="1.15" fill="rgb(20,20,225)" fill-opacity="0.72"/>
<circle cx="225.6" cy="197.5" r="1.15" fill="rgb(20,20,225)" fill-opacity="0.72"/>
<circle cx="226.5" cy="190.1" r="1.15" fill="rgb(20,20,225)" fill-opacity="0.72"/>
<circle cx="227.9" cy="198.4" r="1.15" fill="rgb(20,20,225)" fill-opacity="0.72"/>
<circle cx="229.2" cy="197.3" r="1.15" fill="rgb(20,20,225)" fill-opacity="0.72"/>
<circle cx="230.4" cy="189.6" r="1.15" fill="rgb(20,20,225)" fill-opacity="0.72"/>
<circle cx="231.6" cy="197.2" r="1.15" fill="rgb(20,20,225)" fill-opacity="0.72"/>
<circle cx="232.5" cy="184.4" r="1.15" fill="rgb(20,20,225)" fill-opacity="0.72"/>
<circle cx="233.3" cy="195.7" r="1.15" fill="rgb(20,20,225)" fill-opacity="0.72"/>
<circle cx="234.4" cy="196.6" r="1.15" fill="rgb(20,20,225)" fill-opacity="0.72"/>
<circle cx="235.6" cy="183.0" r="1.15" fill="rgb(20,20,225)" fill-opacity="0.72"/>
<circle cx="236.4" cy="188.2" r="1.15" fill="rgb(20,20,225)" fill-opacity="0.72"/>
<circle cx="237.8" cy="186.3" r="1.15" fill="rgb(20,20,225)" fill-opacity="0.72"/>
<circle cx="263.6" cy="190.0" r="1.15" fill="rgb(20,20,225)" fill-opacity="0.72"/>
<circle cx="266.1" cy="180.8" r="1.15" fill="rgb(20,20,225)" fill-opacity="0.72"/>
<circle cx="268.4" cy="178.5" r="1.15" fill="rgb(20,20,225)" fill-opacity="0.72"/>
<circle cx="270.0" cy="176.0" r="1.15" fill="rgb(20,20,225)" fill-opacity="0.72"/>
<circle cx="272.1" cy="178.8" r="1.15" fill="rgb(20,20,225)" fill-opacity="0.72"/>
<circle cx="273.9" cy="187.8" r="1.15" fill="rgb(20,20,225)" fill-opacity="0.72"/>
<circle cx="275.8" cy="181.8" r="1.15" fill="rgb(20,20,225)" fill-opacity="0.72"/>
<circle cx="277.0" cy="176.0" r="1.15" fill="rgb(20,20,225)" fill-opacity="0.72"/>
<circle cx="279.2" cy="182.3" r="1.15" fill="rgb(20,20,225)" fill-opacity="0.72"/>
<circle cx="281.6" cy="190.3" r="1.15" fill="rgb(20,20,225)" fill-opacity="0.72"/>
<circle cx="283.2" cy="176.0" r="1.15" fill="rgb(20,20,225)" fill-opacity="0.72"/>
<circle cx="284.8" cy="182.4" r="1.15" fill="rgb(20,20,225)" fill-opacity="0.72"/>
<circle cx="287.2" cy="189.1" r="1.15" fill="rgb(20,20,225)" fill-opacity="0.72"/>
<circle cx="288.5" cy="184.6" r="1.15" fill="rgb(20,20,225)" fill-opacity="0.72"/>
<circle cx="289.8" cy="185.2" r="1.15" fill="rgb(20,20,225)" fill-opacity="0.72"/>
<circle cx="291.1" cy="185.8" r="1.15" fill="rgb(20,20,225)" fill-opacity="0.72"/>
<circle cx="293.3" cy="178.8" r="1.15" fill="rgb(20,20,225)" fill-opacity="0.72"/>
<circle cx="295.4" cy="180.8" r="1.15" fill="rgb(20,20,225)" fill-opacity="0.72"/>
<circle cx="297.1" cy="187.9" r="1.15" fill="rgb(20,20,225)" fill-opacity="0.72"/>
<circle cx="299.1" cy="190.8" r="1.15" fill="rgb(20,20,225)" fill-opacity="0.72"/>
<line x1="220" y1="318.8" x2="271.5" y2="318.8" stroke="rgb(230,15,30)" stroke-width="1.4" stroke-opacity="0.75"/>
<path d="M89.2,318.8 L106.6,270.6 L107.8,277.9 L121.0,270.6 L121.0,262.2 L122.9,258.6 L133.1,251.0 L142.4,251.0 L143.5,267.7 L148.1,273.5 L147.0,251.0 L152.7,251.0 L152.7,285.0 L166.6,251.0 L179.3,251.0 L183.9,251.0 L195.5,251.0 L196.4,255.1 L198.2,275.2 L199.2,319.0 L201.9,294.4 L218.3,257.9 L220.1,262.4 L220.1,273.4 L220.1,279.8 L220.3,300.0 L220.6,318.8 L224.7,267.9 L224.8,290.0 L226.2,306.8 L227.6,318.8 L228.6,318.8 L229.5,318.8 L231.2,313.6 L232.3,315.5 L233.4,314.3 L235.2,311.4 L236.5,306.4 L238.6,294.8 L239.5,305.0 L241.0,317.2 L242.0,305.4 L243.5,311.7 L245.2,316.6 L246.5,311.6 L248.1,318.8 L249.6,318.8 L250.6,305.0 L252.2,318.8 L253.6,301.0 L254.8,318.8 L255.7,318.8 L258.0,318.8 L271.5,318.8 L280.0,251.0 L282.0,251.0 L284.0,251.0 L286.5,251.0 L289.0,251.0 L291.5,251.4 L296.0,257.5 L303.8,255.2 L310.0,257.5 L316.0,251.0 L318.0,251.0 L320.5,251.0 L323.0,251.0 L326.2,251.0 L333.5,251.0 L338.5,251.0 L341.0,251.0 L343.5,251.0 L345.0,251.0 L352.0,251.0 L354.5,251.0 L357.0,251.0 L361.5,251.0 L362.4,255.6 L366.0,267.6 L372.0,284.5 L385.2,251.0 L396.0,251.0 L397.9,267.6 L408.0,251.0 L413.5,251.0 L426.0,250.6 L432.4,250.6 L437.0,296.3 L449.8,291.7 L449.8,309.1 L474.3,318.8 L479.0,318.8 L484.3,318.8 L489.8,318.8 L495.3,264.3" fill="none" stroke="rgb(240,60,75)" stroke-opacity="0.45" stroke-width="0.75" stroke-linejoin="round"/>
<path d="M106.6,264.6 L121.0,262.2 L121.7,251.0 L133.1,251.0 L142.4,251.0 L147.0,251.0 L152.7,251.0 L166.6,251.0 L179.3,251.0 L183.9,251.0 L195.5,251.0 L197.3,257.9 L201.9,267.9 L220.1,313.5 L221.0,307.8 L222.1,318.8 L223.5,318.5 L224.7,315.4 L226.2,306.1 L227.6,305.8 L228.6,318.8 L229.5,318.8 L231.2,318.6 L232.3,318.8 L233.4,311.6 L235.2,318.8 L236.5,318.8 L238.6,298.5 L239.5,307.4 L241.0,313.7 L242.0,311.1 L243.5,312.3 L245.2,306.7 L246.5,314.1 L248.1,316.5 L249.6,318.8 L250.6,312.9 L252.2,318.7 L253.6,296.0 L254.8,318.8 L255.7,311.3 L258.0,318.8 L265.0,318.8 L269.1,278.0 L278.3,280.7 L280.0,262.5 L282.9,256.0 L285.0,251.0 L289.3,257.9 L291.0,280.7 L296.0,267.5 L298.5,259.8 L304.6,259.8 L310.0,273.7 L315.4,266.0 L322.3,265.2 L326.2,260.6 L334.6,266.0 L339.2,257.5 L342.3,261.4 L347.0,262.2 L353.0,264.5 L358.5,256.8 L362.9,255.6 L365.4,257.4 L372.0,273.6 L385.2,284.5 L396.0,251.0 L397.9,259.2 L408.0,270.0 L412.9,254.4 L427.0,256.0 L432.4,250.6 L437.0,271.6 L437.0,280.7 L437.9,318.2 L449.6,318.2 L453.4,301.8 L477.9,305.4 L477.0,310.0 L484.3,318.8 L489.8,289.9 L495.3,279.8" fill="none" stroke="rgb(240,60,75)" stroke-opacity="0.45" stroke-width="0.75" stroke-linejoin="round"/>
<path d="M107.7,250.8 L121.7,251.0 L133.1,251.0 L147.0,251.0 L166.6,251.0 L183.9,251.0 L195.5,251.0 L201.9,278.8 L220.1,313.0 L221.0,318.8 L222.1,314.7 L223.5,316.0 L224.7,300.0 L226.2,318.8 L227.6,318.8 L228.6,308.3 L229.5,318.8 L231.2,313.2 L232.3,318.8 L233.4,318.8 L235.2,318.8 L236.5,318.8 L238.6,302.0 L239.5,318.8 L241.0,318.7 L242.0,311.4 L243.5,318.8 L245.2,318.8 L246.5,317.1 L248.1,318.8 L249.6,311.9 L250.6,318.8 L252.2,318.8 L253.6,318.8 L254.8,315.0 L255.7,317.7 L258.0,318.8 L268.0,318.8 L270.0,304.5 L280.0,285.3 L282.0,276.2 L284.7,270.7 L287.4,276.2 L292.0,284.4 L296.0,271.4 L304.6,267.5 L309.0,262.0 L318.5,261.4 L326.0,251.0 L334.6,251.0 L339.2,261.4 L341.5,276.0 L344.0,251.0 L353.8,256.8 L358.0,251.0 L362.4,251.0 L366.0,259.8 L372.0,273.6 L385.2,265.8 L396.0,264.0 L397.9,267.6 L407.7,269.8 L413.2,254.2 L414.1,250.6 L426.0,250.6 L427.9,257.9 L432.4,250.6 L437.9,310.0 L449.8,309.0 L454.4,310.0 L474.3,318.8 L477.9,311.8 L484.3,318.8 L489.8,318.8 L495.3,299.9" fill="none" stroke="rgb(240,60,75)" stroke-opacity="0.45" stroke-width="0.75" stroke-linejoin="round"/>
<path d="M273.0,318.8 L278.3,305.4 L280.0,289.9 L282.9,279.8 L285.6,289.9 L286.5,299.0 L288.3,302.7 L291.5,281.4 L295.6,285.3 L296.6,270.7 L304.6,280.6 L310.0,257.5 L315.4,251.0" fill="none" stroke="rgb(240,60,75)" stroke-opacity="0.45" stroke-width="0.75" stroke-linejoin="round"/>
<path d="M275.0,318.8 L281.0,312.7 L282.9,318.2 L285.6,318.2 L288.3,317.3 L289.3,306.3 L293.8,309.0 L295.6,304.5 L297.5,259.7 L304.6,274.5 L310.0,262.0" fill="none" stroke="rgb(240,60,75)" stroke-opacity="0.45" stroke-width="0.75" stroke-linejoin="round"/>
<path d="M222.0,310.3 L223.5,318.8 L224.7,307.0 L225.8,309.9 L227.4,317.7 L228.3,317.8 L229.6,312.3 L231.0,318.8 L232.4,309.5 L233.4,317.3 L234.8,318.1 L236.1,307.1 L237.7,307.4 L238.6,316.2 L240.2,309.9 L241.3,314.2 L242.8,318.4 L244.1,318.3 L245.7,306.9 L246.8,318.8 L247.9,307.9 L248.9,318.1 L250.4,310.5 L251.7,318.8 L252.8,318.8 L253.9,318.8 L254.8,307.8 L255.9,309.8" fill="none" stroke="rgb(240,60,75)" stroke-opacity="0.45" stroke-width="0.75" stroke-linejoin="round"/>
<circle cx="89.2" cy="318.8" r="1.2" fill="rgb(230,15,30)" fill-opacity="0.72"/>
<circle cx="106.6" cy="270.6" r="1.2" fill="rgb(230,15,30)" fill-opacity="0.72"/>
<circle cx="107.8" cy="277.9" r="1.2" fill="rgb(230,15,30)" fill-opacity="0.72"/>
<circle cx="121.0" cy="270.6" r="1.2" fill="rgb(230,15,30)" fill-opacity="0.72"/>
<circle cx="121.0" cy="262.2" r="1.2" fill="rgb(230,15,30)" fill-opacity="0.72"/>
<circle cx="122.9" cy="258.6" r="1.2" fill="rgb(230,15,30)" fill-opacity="0.72"/>
<circle cx="133.1" cy="251.0" r="1.2" fill="rgb(230,15,30)" fill-opacity="0.72"/>
<circle cx="142.4" cy="251.0" r="1.2" fill="rgb(230,15,30)" fill-opacity="0.72"/>
<circle cx="143.5" cy="267.7" r="1.2" fill="rgb(230,15,30)" fill-opacity="0.72"/>
<circle cx="148.1" cy="273.5" r="1.2" fill="rgb(230,15,30)" fill-opacity="0.72"/>
<circle cx="147.0" cy="251.0" r="1.2" fill="rgb(230,15,30)" fill-opacity="0.72"/>
<circle cx="152.7" cy="251.0" r="1.2" fill="rgb(230,15,30)" fill-opacity="0.72"/>
<circle cx="152.7" cy="285.0" r="1.2" fill="rgb(230,15,30)" fill-opacity="0.72"/>
<circle cx="166.6" cy="251.0" r="1.2" fill="rgb(230,15,30)" fill-opacity="0.72"/>
<circle cx="179.3" cy="251.0" r="1.2" fill="rgb(230,15,30)" fill-opacity="0.72"/>
<circle cx="183.9" cy="251.0" r="1.2" fill="rgb(230,15,30)" fill-opacity="0.72"/>
<circle cx="195.5" cy="251.0" r="1.2" fill="rgb(230,15,30)" fill-opacity="0.72"/>
<circle cx="196.4" cy="255.1" r="1.2" fill="rgb(230,15,30)" fill-opacity="0.72"/>
<circle cx="198.2" cy="275.2" r="1.2" fill="rgb(230,15,30)" fill-opacity="0.72"/>
<circle cx="199.2" cy="319.0" r="1.2" fill="rgb(230,15,30)" fill-opacity="0.72"/>
<circle cx="201.9" cy="294.4" r="1.2" fill="rgb(230,15,30)" fill-opacity="0.72"/>
<circle cx="218.3" cy="257.9" r="1.2" fill="rgb(230,15,30)" fill-opacity="0.72"/>
<circle cx="220.1" cy="262.4" r="1.2" fill="rgb(230,15,30)" fill-opacity="0.72"/>
<circle cx="220.1" cy="273.4" r="1.2" fill="rgb(230,15,30)" fill-opacity="0.72"/>
<circle cx="220.1" cy="279.8" r="1.2" fill="rgb(230,15,30)" fill-opacity="0.72"/>
<circle cx="220.3" cy="300.0" r="1.2" fill="rgb(230,15,30)" fill-opacity="0.72"/>
<circle cx="220.6" cy="318.8" r="1.2" fill="rgb(230,15,30)" fill-opacity="0.72"/>
<circle cx="224.7" cy="267.9" r="1.2" fill="rgb(230,15,30)" fill-opacity="0.72"/>
<circle cx="224.8" cy="290.0" r="1.2" fill="rgb(230,15,30)" fill-opacity="0.72"/>
<circle cx="226.2" cy="306.8" r="1.2" fill="rgb(230,15,30)" fill-opacity="0.72"/>
<circle cx="227.6" cy="318.8" r="1.2" fill="rgb(230,15,30)" fill-opacity="0.72"/>
<circle cx="228.6" cy="318.8" r="1.2" fill="rgb(230,15,30)" fill-opacity="0.72"/>
<circle cx="229.5" cy="318.8" r="1.2" fill="rgb(230,15,30)" fill-opacity="0.72"/>
<circle cx="231.2" cy="313.6" r="1.2" fill="rgb(230,15,30)" fill-opacity="0.72"/>
<circle cx="232.3" cy="315.5" r="1.2" fill="rgb(230,15,30)" fill-opacity="0.72"/>
<circle cx="233.4" cy="314.3" r="1.2" fill="rgb(230,15,30)" fill-opacity="0.72"/>
<circle cx="235.2" cy="311.4" r="1.2" fill="rgb(230,15,30)" fill-opacity="0.72"/>
<circle cx="236.5" cy="306.4" r="1.2" fill="rgb(230,15,30)" fill-opacity="0.72"/>
<circle cx="238.6" cy="294.8" r="1.2" fill="rgb(230,15,30)" fill-opacity="0.72"/>
<circle cx="239.5" cy="305.0" r="1.2" fill="rgb(230,15,30)" fill-opacity="0.72"/>
<circle cx="241.0" cy="317.2" r="1.2" fill="rgb(230,15,30)" fill-opacity="0.72"/>
<circle cx="242.0" cy="305.4" r="1.2" fill="rgb(230,15,30)" fill-opacity="0.72"/>
<circle cx="243.5" cy="311.7" r="1.2" fill="rgb(230,15,30)" fill-opacity="0.72"/>
<circle cx="245.2" cy="316.6" r="1.2" fill="rgb(230,15,30)" fill-opacity="0.72"/>
<circle cx="246.5" cy="311.6" r="1.2" fill="rgb(230,15,30)" fill-opacity="0.72"/>
<circle cx="248.1" cy="318.8" r="1.2" fill="rgb(230,15,30)" fill-opacity="0.72"/>
<circle cx="249.6" cy="318.8" r="1.2" fill="rgb(230,15,30)" fill-opacity="0.72"/>
<circle cx="250.6" cy="305.0" r="1.2" fill="rgb(230,15,30)" fill-opacity="0.72"/>
<circle cx="252.2" cy="318.8" r="1.2" fill="rgb(230,15,30)" fill-opacity="0.72"/>
<circle cx="253.6" cy="301.0" r="1.2" fill="rgb(230,15,30)" fill-opacity="0.72"/>
<circle cx="254.8" cy="318.8" r="1.2" fill="rgb(230,15,30)" fill-opacity="0.72"/>
<circle cx="255.7" cy="318.8" r="1.2" fill="rgb(230,15,30)" fill-opacity="0.72"/>
<circle cx="258.0" cy="318.8" r="1.2" fill="rgb(230,15,30)" fill-opacity="0.72"/>
<circle cx="271.5" cy="318.8" r="1.2" fill="rgb(230,15,30)" fill-opacity="0.72"/>
<circle cx="280.0" cy="251.0" r="1.2" fill="rgb(230,15,30)" fill-opacity="0.72"/>
<circle cx="282.0" cy="251.0" r="1.2" fill="rgb(230,15,30)" fill-opacity="0.72"/>
<circle cx="284.0" cy="251.0" r="1.2" fill="rgb(230,15,30)" fill-opacity="0.72"/>
<circle cx="286.5" cy="251.0" r="1.2" fill="rgb(230,15,30)" fill-opacity="0.72"/>
<circle cx="289.0" cy="251.0" r="1.2" fill="rgb(230,15,30)" fill-opacity="0.72"/>
<circle cx="291.5" cy="251.4" r="1.2" fill="rgb(230,15,30)" fill-opacity="0.72"/>
<circle cx="296.0" cy="257.5" r="1.2" fill="rgb(230,15,30)" fill-opacity="0.72"/>
<circle cx="303.8" cy="255.2" r="1.2" fill="rgb(230,15,30)" fill-opacity="0.72"/>
<circle cx="310.0" cy="257.5" r="1.2" fill="rgb(230,15,30)" fill-opacity="0.72"/>
<circle cx="316.0" cy="251.0" r="1.2" fill="rgb(230,15,30)" fill-opacity="0.72"/>
<circle cx="318.0" cy="251.0" r="1.2" fill="rgb(230,15,30)" fill-opacity="0.72"/>
<circle cx="320.5" cy="251.0" r="1.2" fill="rgb(230,15,30)" fill-opacity="0.72"/>
<circle cx="323.0" cy="251.0" r="1.2" fill="rgb(230,15,30)" fill-opacity="0.72"/>
<circle cx="326.2" cy="251.0" r="1.2" fill="rgb(230,15,30)" fill-opacity="0.72"/>
<circle cx="333.5" cy="251.0" r="1.2" fill="rgb(230,15,30)" fill-opacity="0.72"/>
<circle cx="338.5" cy="251.0" r="1.2" fill="rgb(230,15,30)" fill-opacity="0.72"/>
<circle cx="341.0" cy="251.0" r="1.2" fill="rgb(230,15,30)" fill-opacity="0.72"/>
<circle cx="343.5" cy="251.0" r="1.2" fill="rgb(230,15,30)" fill-opacity="0.72"/>
<circle cx="345.0" cy="251.0" r="1.2" fill="rgb(230,15,30)" fill-opacity="0.72"/>
<circle cx="352.0" cy="251.0" r="1.2" fill="rgb(230,15,30)" fill-opacity="0.72"/>
<circle cx="354.5" cy="251.0" r="1.2" fill="rgb(230,15,30)" fill-opacity="0.72"/>
<circle cx="357.0" cy="251.0" r="1.2" fill="rgb(230,15,30)" fill-opacity="0.72"/>
<circle cx="361.5" cy="251.0" r="1.2" fill="rgb(230,15,30)" fill-opacity="0.72"/>
<circle cx="362.4" cy="255.6" r="1.2" fill="rgb(230,15,30)" fill-opacity="0.72"/>
<circle cx="366.0" cy="267.6" r="1.2" fill="rgb(230,15,30)" fill-opacity="0.72"/>
<circle cx="372.0" cy="284.5" r="1.2" fill="rgb(230,15,30)" fill-opacity="0.72"/>
<circle cx="385.2" cy="251.0" r="1.2" fill="rgb(230,15,30)" fill-opacity="0.72"/>
<circle cx="396.0" cy="251.0" r="1.2" fill="rgb(230,15,30)" fill-opacity="0.72"/>
<circle cx="397.9" cy="267.6" r="1.2" fill="rgb(230,15,30)" fill-opacity="0.72"/>
<circle cx="408.0" cy="251.0" r="1.2" fill="rgb(230,15,30)" fill-opacity="0.72"/>
<circle cx="413.5" cy="251.0" r="1.2" fill="rgb(230,15,30)" fill-opacity="0.72"/>
<circle cx="426.0" cy="250.6" r="1.2" fill="rgb(230,15,30)" fill-opacity="0.72"/>
<circle cx="432.4" cy="250.6" r="1.2" fill="rgb(230,15,30)" fill-opacity="0.72"/>
<circle cx="437.0" cy="296.3" r="1.2" fill="rgb(230,15,30)" fill-opacity="0.72"/>
<circle cx="449.8" cy="291.7" r="1.2" fill="rgb(230,15,30)" fill-opacity="0.72"/>
<circle cx="449.8" cy="309.1" r="1.2" fill="rgb(230,15,30)" fill-opacity="0.72"/>
<circle cx="474.3" cy="318.8" r="1.2" fill="rgb(230,15,30)" fill-opacity="0.72"/>
<circle cx="479.0" cy="318.8" r="1.2" fill="rgb(230,15,30)" fill-opacity="0.72"/>
<circle cx="484.3" cy="318.8" r="1.2" fill="rgb(230,15,30)" fill-opacity="0.72"/>
<circle cx="489.8" cy="318.8" r="1.2" fill="rgb(230,15,30)" fill-opacity="0.72"/>
<circle cx="495.3" cy="264.3" r="1.2" fill="rgb(230,15,30)" fill-opacity="0.72"/>
<circle cx="106.6" cy="264.6" r="1.2" fill="rgb(230,15,30)" fill-opacity="0.72"/>
<circle cx="121.0" cy="262.2" r="1.2" fill="rgb(230,15,30)" fill-opacity="0.72"/>
<circle cx="121.7" cy="251.0" r="1.2" fill="rgb(230,15,30)" fill-opacity="0.72"/>
<circle cx="133.1" cy="251.0" r="1.2" fill="rgb(230,15,30)" fill-opacity="0.72"/>
<circle cx="142.4" cy="251.0" r="1.2" fill="rgb(230,15,30)" fill-opacity="0.72"/>
<circle cx="147.0" cy="251.0" r="1.2" fill="rgb(230,15,30)" fill-opacity="0.72"/>
<circle cx="152.7" cy="251.0" r="1.2" fill="rgb(230,15,30)" fill-opacity="0.72"/>
<circle cx="166.6" cy="251.0" r="1.2" fill="rgb(230,15,30)" fill-opacity="0.72"/>
<circle cx="179.3" cy="251.0" r="1.2" fill="rgb(230,15,30)" fill-opacity="0.72"/>
<circle cx="183.9" cy="251.0" r="1.2" fill="rgb(230,15,30)" fill-opacity="0.72"/>
<circle cx="195.5" cy="251.0" r="1.2" fill="rgb(230,15,30)" fill-opacity="0.72"/>
<circle cx="197.3" cy="257.9" r="1.2" fill="rgb(230,15,30)" fill-opacity="0.72"/>
<circle cx="201.9" cy="267.9" r="1.2" fill="rgb(230,15,30)" fill-opacity="0.72"/>
<circle cx="220.1" cy="313.5" r="1.2" fill="rgb(230,15,30)" fill-opacity="0.72"/>
<circle cx="221.0" cy="307.8" r="1.2" fill="rgb(230,15,30)" fill-opacity="0.72"/>
<circle cx="222.1" cy="318.8" r="1.2" fill="rgb(230,15,30)" fill-opacity="0.72"/>
<circle cx="223.5" cy="318.5" r="1.2" fill="rgb(230,15,30)" fill-opacity="0.72"/>
<circle cx="224.7" cy="315.4" r="1.2" fill="rgb(230,15,30)" fill-opacity="0.72"/>
<circle cx="226.2" cy="306.1" r="1.2" fill="rgb(230,15,30)" fill-opacity="0.72"/>
<circle cx="227.6" cy="305.8" r="1.2" fill="rgb(230,15,30)" fill-opacity="0.72"/>
<circle cx="228.6" cy="318.8" r="1.2" fill="rgb(230,15,30)" fill-opacity="0.72"/>
<circle cx="229.5" cy="318.8" r="1.2" fill="rgb(230,15,30)" fill-opacity="0.72"/>
<circle cx="231.2" cy="318.6" r="1.2" fill="rgb(230,15,30)" fill-opacity="0.72"/>
<circle cx="232.3" cy="318.8" r="1.2" fill="rgb(230,15,30)" fill-opacity="0.72"/>
<circle cx="233.4" cy="311.6" r="1.2" fill="rgb(230,15,30)" fill-opacity="0.72"/>
<circle cx="235.2" cy="318.8" r="1.2" fill="rgb(230,15,30)" fill-opacity="0.72"/>
<circle cx="236.5" cy="318.8" r="1.2" fill="rgb(230,15,30)" fill-opacity="0.72"/>
<circle cx="238.6" cy="298.5" r="1.2" fill="rgb(230,15,30)" fill-opacity="0.72"/>
<circle cx="239.5" cy="307.4" r="1.2" fill="rgb(230,15,30)" fill-opacity="0.72"/>
<circle cx="241.0" cy="313.7" r="1.2" fill="rgb(230,15,30)" fill-opacity="0.72"/>
<circle cx="242.0" cy="311.1" r="1.2" fill="rgb(230,15,30)" fill-opacity="0.72"/>
<circle cx="243.5" cy="312.3" r="1.2" fill="rgb(230,15,30)" fill-opacity="0.72"/>
<circle cx="245.2" cy="306.7" r="1.2" fill="rgb(230,15,30)" fill-opacity="0.72"/>
<circle cx="246.5" cy="314.1" r="1.2" fill="rgb(230,15,30)" fill-opacity="0.72"/>
<circle cx="248.1" cy="316.5" r="1.2" fill="rgb(230,15,30)" fill-opacity="0.72"/>
<circle cx="249.6" cy="318.8" r="1.2" fill="rgb(230,15,30)" fill-opacity="0.72"/>
<circle cx="250.6" cy="312.9" r="1.2" fill="rgb(230,15,30)" fill-opacity="0.72"/>
<circle cx="252.2" cy="318.7" r="1.2" fill="rgb(230,15,30)" fill-opacity="0.72"/>
<circle cx="253.6" cy="296.0" r="1.2" fill="rgb(230,15,30)" fill-opacity="0.72"/>
<circle cx="254.8" cy="318.8" r="1.2" fill="rgb(230,15,30)" fill-opacity="0.72"/>
<circle cx="255.7" cy="311.3" r="1.2" fill="rgb(230,15,30)" fill-opacity="0.72"/>
<circle cx="258.0" cy="318.8" r="1.2" fill="rgb(230,15,30)" fill-opacity="0.72"/>
<circle cx="265.0" cy="318.8" r="1.2" fill="rgb(230,15,30)" fill-opacity="0.72"/>
<circle cx="269.1" cy="278.0" r="1.2" fill="rgb(230,15,30)" fill-opacity="0.72"/>
<circle cx="278.3" cy="280.7" r="1.2" fill="rgb(230,15,30)" fill-opacity="0.72"/>
<circle cx="280.0" cy="262.5" r="1.2" fill="rgb(230,15,30)" fill-opacity="0.72"/>
<circle cx="282.9" cy="256.0" r="1.2" fill="rgb(230,15,30)" fill-opacity="0.72"/>
<circle cx="285.0" cy="251.0" r="1.2" fill="rgb(230,15,30)" fill-opacity="0.72"/>
<circle cx="289.3" cy="257.9" r="1.2" fill="rgb(230,15,30)" fill-opacity="0.72"/>
<circle cx="291.0" cy="280.7" r="1.2" fill="rgb(230,15,30)" fill-opacity="0.72"/>
<circle cx="296.0" cy="267.5" r="1.2" fill="rgb(230,15,30)" fill-opacity="0.72"/>
<circle cx="298.5" cy="259.8" r="1.2" fill="rgb(230,15,30)" fill-opacity="0.72"/>
<circle cx="304.6" cy="259.8" r="1.2" fill="rgb(230,15,30)" fill-opacity="0.72"/>
<circle cx="310.0" cy="273.7" r="1.2" fill="rgb(230,15,30)" fill-opacity="0.72"/>
<circle cx="315.4" cy="266.0" r="1.2" fill="rgb(230,15,30)" fill-opacity="0.72"/>
<circle cx="322.3" cy="265.2" r="1.2" fill="rgb(230,15,30)" fill-opacity="0.72"/>
<circle cx="326.2" cy="260.6" r="1.2" fill="rgb(230,15,30)" fill-opacity="0.72"/>
<circle cx="334.6" cy="266.0" r="1.2" fill="rgb(230,15,30)" fill-opacity="0.72"/>
<circle cx="339.2" cy="257.5" r="1.2" fill="rgb(230,15,30)" fill-opacity="0.72"/>
<circle cx="342.3" cy="261.4" r="1.2" fill="rgb(230,15,30)" fill-opacity="0.72"/>
<circle cx="347.0" cy="262.2" r="1.2" fill="rgb(230,15,30)" fill-opacity="0.72"/>
<circle cx="353.0" cy="264.5" r="1.2" fill="rgb(230,15,30)" fill-opacity="0.72"/>
<circle cx="358.5" cy="256.8" r="1.2" fill="rgb(230,15,30)" fill-opacity="0.72"/>
<circle cx="362.9" cy="255.6" r="1.2" fill="rgb(230,15,30)" fill-opacity="0.72"/>
<circle cx="365.4" cy="257.4" r="1.2" fill="rgb(230,15,30)" fill-opacity="0.72"/>
<circle cx="372.0" cy="273.6" r="1.2" fill="rgb(230,15,30)" fill-opacity="0.72"/>
<circle cx="385.2" cy="284.5" r="1.2" fill="rgb(230,15,30)" fill-opacity="0.72"/>
<circle cx="396.0" cy="251.0" r="1.2" fill="rgb(230,15,30)" fill-opacity="0.72"/>
<circle cx="397.9" cy="259.2" r="1.2" fill="rgb(230,15,30)" fill-opacity="0.72"/>
<circle cx="408.0" cy="270.0" r="1.2" fill="rgb(230,15,30)" fill-opacity="0.72"/>
<circle cx="412.9" cy="254.4" r="1.2" fill="rgb(230,15,30)" fill-opacity="0.72"/>
<circle cx="427.0" cy="256.0" r="1.2" fill="rgb(230,15,30)" fill-opacity="0.72"/>
<circle cx="432.4" cy="250.6" r="1.2" fill="rgb(230,15,30)" fill-opacity="0.72"/>
<circle cx="437.0" cy="271.6" r="1.2" fill="rgb(230,15,30)" fill-opacity="0.72"/>
<circle cx="437.0" cy="280.7" r="1.2" fill="rgb(230,15,30)" fill-opacity="0.72"/>
<circle cx="437.9" cy="318.2" r="1.2" fill="rgb(230,15,30)" fill-opacity="0.72"/>
<circle cx="449.6" cy="318.2" r="1.2" fill="rgb(230,15,30)" fill-opacity="0.72"/>
<circle cx="453.4" cy="301.8" r="1.2" fill="rgb(230,15,30)" fill-opacity="0.72"/>
<circle cx="477.9" cy="305.4" r="1.2" fill="rgb(230,15,30)" fill-opacity="0.72"/>
<circle cx="477.0" cy="310.0" r="1.2" fill="rgb(230,15,30)" fill-opacity="0.72"/>
<circle cx="484.3" cy="318.8" r="1.2" fill="rgb(230,15,30)" fill-opacity="0.72"/>
<circle cx="489.8" cy="289.9" r="1.2" fill="rgb(230,15,30)" fill-opacity="0.72"/>
<circle cx="495.3" cy="279.8" r="1.2" fill="rgb(230,15,30)" fill-opacity="0.72"/>
<circle cx="107.7" cy="250.8" r="1.2" fill="rgb(230,15,30)" fill-opacity="0.72"/>
<circle cx="121.7" cy="251.0" r="1.2" fill="rgb(230,15,30)" fill-opacity="0.72"/>
<circle cx="133.1" cy="251.0" r="1.2" fill="rgb(230,15,30)" fill-opacity="0.72"/>
<circle cx="147.0" cy="251.0" r="1.2" fill="rgb(230,15,30)" fill-opacity="0.72"/>
<circle cx="166.6" cy="251.0" r="1.2" fill="rgb(230,15,30)" fill-opacity="0.72"/>
<circle cx="183.9" cy="251.0" r="1.2" fill="rgb(230,15,30)" fill-opacity="0.72"/>
<circle cx="195.5" cy="251.0" r="1.2" fill="rgb(230,15,30)" fill-opacity="0.72"/>
<circle cx="201.9" cy="278.8" r="1.2" fill="rgb(230,15,30)" fill-opacity="0.72"/>
<circle cx="220.1" cy="313.0" r="1.2" fill="rgb(230,15,30)" fill-opacity="0.72"/>
<circle cx="221.0" cy="318.8" r="1.2" fill="rgb(230,15,30)" fill-opacity="0.72"/>
<circle cx="222.1" cy="314.7" r="1.2" fill="rgb(230,15,30)" fill-opacity="0.72"/>
<circle cx="223.5" cy="316.0" r="1.2" fill="rgb(230,15,30)" fill-opacity="0.72"/>
<circle cx="224.7" cy="300.0" r="1.2" fill="rgb(230,15,30)" fill-opacity="0.72"/>
<circle cx="226.2" cy="318.8" r="1.2" fill="rgb(230,15,30)" fill-opacity="0.72"/>
<circle cx="227.6" cy="318.8" r="1.2" fill="rgb(230,15,30)" fill-opacity="0.72"/>
<circle cx="228.6" cy="308.3" r="1.2" fill="rgb(230,15,30)" fill-opacity="0.72"/>
<circle cx="229.5" cy="318.8" r="1.2" fill="rgb(230,15,30)" fill-opacity="0.72"/>
<circle cx="231.2" cy="313.2" r="1.2" fill="rgb(230,15,30)" fill-opacity="0.72"/>
<circle cx="232.3" cy="318.8" r="1.2" fill="rgb(230,15,30)" fill-opacity="0.72"/>
<circle cx="233.4" cy="318.8" r="1.2" fill="rgb(230,15,30)" fill-opacity="0.72"/>
<circle cx="235.2" cy="318.8" r="1.2" fill="rgb(230,15,30)" fill-opacity="0.72"/>
<circle cx="236.5" cy="318.8" r="1.2" fill="rgb(230,15,30)" fill-opacity="0.72"/>
<circle cx="238.6" cy="302.0" r="1.2" fill="rgb(230,15,30)" fill-opacity="0.72"/>
<circle cx="239.5" cy="318.8" r="1.2" fill="rgb(230,15,30)" fill-opacity="0.72"/>
<circle cx="241.0" cy="318.7" r="1.2" fill="rgb(230,15,30)" fill-opacity="0.72"/>
<circle cx="242.0" cy="311.4" r="1.2" fill="rgb(230,15,30)" fill-opacity="0.72"/>
<circle cx="243.5" cy="318.8" r="1.2" fill="rgb(230,15,30)" fill-opacity="0.72"/>
<circle cx="245.2" cy="318.8" r="1.2" fill="rgb(230,15,30)" fill-opacity="0.72"/>
<circle cx="246.5" cy="317.1" r="1.2" fill="rgb(230,15,30)" fill-opacity="0.72"/>
<circle cx="248.1" cy="318.8" r="1.2" fill="rgb(230,15,30)" fill-opacity="0.72"/>
<circle cx="249.6" cy="311.9" r="1.2" fill="rgb(230,15,30)" fill-opacity="0.72"/>
<circle cx="250.6" cy="318.8" r="1.2" fill="rgb(230,15,30)" fill-opacity="0.72"/>
<circle cx="252.2" cy="318.8" r="1.2" fill="rgb(230,15,30)" fill-opacity="0.72"/>
<circle cx="253.6" cy="318.8" r="1.2" fill="rgb(230,15,30)" fill-opacity="0.72"/>
<circle cx="254.8" cy="315.0" r="1.2" fill="rgb(230,15,30)" fill-opacity="0.72"/>
<circle cx="255.7" cy="317.7" r="1.2" fill="rgb(230,15,30)" fill-opacity="0.72"/>
<circle cx="258.0" cy="318.8" r="1.2" fill="rgb(230,15,30)" fill-opacity="0.72"/>
<circle cx="268.0" cy="318.8" r="1.2" fill="rgb(230,15,30)" fill-opacity="0.72"/>
<circle cx="270.0" cy="304.5" r="1.2" fill="rgb(230,15,30)" fill-opacity="0.72"/>
<circle cx="280.0" cy="285.3" r="1.2" fill="rgb(230,15,30)" fill-opacity="0.72"/>
<circle cx="282.0" cy="276.2" r="1.2" fill="rgb(230,15,30)" fill-opacity="0.72"/>
<circle cx="284.7" cy="270.7" r="1.2" fill="rgb(230,15,30)" fill-opacity="0.72"/>
<circle cx="287.4" cy="276.2" r="1.2" fill="rgb(230,15,30)" fill-opacity="0.72"/>
<circle cx="292.0" cy="284.4" r="1.2" fill="rgb(230,15,30)" fill-opacity="0.72"/>
<circle cx="296.0" cy="271.4" r="1.2" fill="rgb(230,15,30)" fill-opacity="0.72"/>
<circle cx="304.6" cy="267.5" r="1.2" fill="rgb(230,15,30)" fill-opacity="0.72"/>
<circle cx="309.0" cy="262.0" r="1.2" fill="rgb(230,15,30)" fill-opacity="0.72"/>
<circle cx="318.5" cy="261.4" r="1.2" fill="rgb(230,15,30)" fill-opacity="0.72"/>
<circle cx="326.0" cy="251.0" r="1.2" fill="rgb(230,15,30)" fill-opacity="0.72"/>
<circle cx="334.6" cy="251.0" r="1.2" fill="rgb(230,15,30)" fill-opacity="0.72"/>
<circle cx="339.2" cy="261.4" r="1.2" fill="rgb(230,15,30)" fill-opacity="0.72"/>
<circle cx="341.5" cy="276.0" r="1.2" fill="rgb(230,15,30)" fill-opacity="0.72"/>
<circle cx="344.0" cy="251.0" r="1.2" fill="rgb(230,15,30)" fill-opacity="0.72"/>
<circle cx="353.8" cy="256.8" r="1.2" fill="rgb(230,15,30)" fill-opacity="0.72"/>
<circle cx="358.0" cy="251.0" r="1.2" fill="rgb(230,15,30)" fill-opacity="0.72"/>
<circle cx="362.4" cy="251.0" r="1.2" fill="rgb(230,15,30)" fill-opacity="0.72"/>
<circle cx="366.0" cy="259.8" r="1.2" fill="rgb(230,15,30)" fill-opacity="0.72"/>
<circle cx="372.0" cy="273.6" r="1.2" fill="rgb(230,15,30)" fill-opacity="0.72"/>
<circle cx="385.2" cy="265.8" r="1.2" fill="rgb(230,15,30)" fill-opacity="0.72"/>
<circle cx="396.0" cy="264.0" r="1.2" fill="rgb(230,15,30)" fill-opacity="0.72"/>
<circle cx="397.9" cy="267.6" r="1.2" fill="rgb(230,15,30)" fill-opacity="0.72"/>
<circle cx="407.7" cy="269.8" r="1.2" fill="rgb(230,15,30)" fill-opacity="0.72"/>
<circle cx="413.2" cy="254.2" r="1.2" fill="rgb(230,15,30)" fill-opacity="0.72"/>
<circle cx="414.1" cy="250.6" r="1.2" fill="rgb(230,15,30)" fill-opacity="0.72"/>
<circle cx="426.0" cy="250.6" r="1.2" fill="rgb(230,15,30)" fill-opacity="0.72"/>
<circle cx="427.9" cy="257.9" r="1.2" fill="rgb(230,15,30)" fill-opacity="0.72"/>
<circle cx="432.4" cy="250.6" r="1.2" fill="rgb(230,15,30)" fill-opacity="0.72"/>
<circle cx="437.9" cy="310.0" r="1.2" fill="rgb(230,15,30)" fill-opacity="0.72"/>
<circle cx="449.8" cy="309.0" r="1.2" fill="rgb(230,15,30)" fill-opacity="0.72"/>
<circle cx="454.4" cy="310.0" r="1.2" fill="rgb(230,15,30)" fill-opacity="0.72"/>
<circle cx="474.3" cy="318.8" r="1.2" fill="rgb(230,15,30)" fill-opacity="0.72"/>
<circle cx="477.9" cy="311.8" r="1.2" fill="rgb(230,15,30)" fill-opacity="0.72"/>
<circle cx="484.3" cy="318.8" r="1.2" fill="rgb(230,15,30)" fill-opacity="0.72"/>
<circle cx="489.8" cy="318.8" r="1.2" fill="rgb(230,15,30)" fill-opacity="0.72"/>
<circle cx="495.3" cy="299.9" r="1.2" fill="rgb(230,15,30)" fill-opacity="0.72"/>
<circle cx="273.0" cy="318.8" r="1.2" fill="rgb(230,15,30)" fill-opacity="0.72"/>
<circle cx="278.3" cy="305.4" r="1.2" fill="rgb(230,15,30)" fill-opacity="0.72"/>
<circle cx="280.0" cy="289.9" r="1.2" fill="rgb(230,15,30)" fill-opacity="0.72"/>
<circle cx="282.9" cy="279.8" r="1.2" fill="rgb(230,15,30)" fill-opacity="0.72"/>
<circle cx="285.6" cy="289.9" r="1.2" fill="rgb(230,15,30)" fill-opacity="0.72"/>
<circle cx="286.5" cy="299.0" r="1.2" fill="rgb(230,15,30)" fill-opacity="0.72"/>
<circle cx="288.3" cy="302.7" r="1.2" fill="rgb(230,15,30)" fill-opacity="0.72"/>
<circle cx="291.5" cy="281.4" r="1.2" fill="rgb(230,15,30)" fill-opacity="0.72"/>
<circle cx="295.6" cy="285.3" r="1.2" fill="rgb(230,15,30)" fill-opacity="0.72"/>
<circle cx="296.6" cy="270.7" r="1.2" fill="rgb(230,15,30)" fill-opacity="0.72"/>
<circle cx="304.6" cy="280.6" r="1.2" fill="rgb(230,15,30)" fill-opacity="0.72"/>
<circle cx="310.0" cy="257.5" r="1.2" fill="rgb(230,15,30)" fill-opacity="0.72"/>
<circle cx="315.4" cy="251.0" r="1.2" fill="rgb(230,15,30)" fill-opacity="0.72"/>
<circle cx="275.0" cy="318.8" r="1.2" fill="rgb(230,15,30)" fill-opacity="0.72"/>
<circle cx="281.0" cy="312.7" r="1.2" fill="rgb(230,15,30)" fill-opacity="0.72"/>
<circle cx="282.9" cy="318.2" r="1.2" fill="rgb(230,15,30)" fill-opacity="0.72"/>
<circle cx="285.6" cy="318.2" r="1.2" fill="rgb(230,15,30)" fill-opacity="0.72"/>
<circle cx="288.3" cy="317.3" r="1.2" fill="rgb(230,15,30)" fill-opacity="0.72"/>
<circle cx="289.3" cy="306.3" r="1.2" fill="rgb(230,15,30)" fill-opacity="0.72"/>
<circle cx="293.8" cy="309.0" r="1.2" fill="rgb(230,15,30)" fill-opacity="0.72"/>
<circle cx="295.6" cy="304.5" r="1.2" fill="rgb(230,15,30)" fill-opacity="0.72"/>
<circle cx="297.5" cy="259.7" r="1.2" fill="rgb(230,15,30)" fill-opacity="0.72"/>
<circle cx="304.6" cy="274.5" r="1.2" fill="rgb(230,15,30)" fill-opacity="0.72"/>
<circle cx="310.0" cy="262.0" r="1.2" fill="rgb(230,15,30)" fill-opacity="0.72"/>
<circle cx="222.0" cy="310.3" r="1.2" fill="rgb(230,15,30)" fill-opacity="0.72"/>
<circle cx="223.5" cy="318.8" r="1.2" fill="rgb(230,15,30)" fill-opacity="0.72"/>
<circle cx="224.7" cy="307.0" r="1.2" fill="rgb(230,15,30)" fill-opacity="0.72"/>
<circle cx="225.8" cy="309.9" r="1.2" fill="rgb(230,15,30)" fill-opacity="0.72"/>
<circle cx="227.4" cy="317.7" r="1.2" fill="rgb(230,15,30)" fill-opacity="0.72"/>
<circle cx="228.3" cy="317.8" r="1.2" fill="rgb(230,15,30)" fill-opacity="0.72"/>
<circle cx="229.6" cy="312.3" r="1.2" fill="rgb(230,15,30)" fill-opacity="0.72"/>
<circle cx="231.0" cy="318.8" r="1.2" fill="rgb(230,15,30)" fill-opacity="0.72"/>
<circle cx="232.4" cy="309.5" r="1.2" fill="rgb(230,15,30)" fill-opacity="0.72"/>
<circle cx="233.4" cy="317.3" r="1.2" fill="rgb(230,15,30)" fill-opacity="0.72"/>
<circle cx="234.8" cy="318.1" r="1.2" fill="rgb(230,15,30)" fill-opacity="0.72"/>
<circle cx="236.1" cy="307.1" r="1.2" fill="rgb(230,15,30)" fill-opacity="0.72"/>
<circle cx="237.7" cy="307.4" r="1.2" fill="rgb(230,15,30)" fill-opacity="0.72"/>
<circle cx="238.6" cy="316.2" r="1.2" fill="rgb(230,15,30)" fill-opacity="0.72"/>
<circle cx="240.2" cy="309.9" r="1.2" fill="rgb(230,15,30)" fill-opacity="0.72"/>
<circle cx="241.3" cy="314.2" r="1.2" fill="rgb(230,15,30)" fill-opacity="0.72"/>
<circle cx="242.8" cy="318.4" r="1.2" fill="rgb(230,15,30)" fill-opacity="0.72"/>
<circle cx="244.1" cy="318.3" r="1.2" fill="rgb(230,15,30)" fill-opacity="0.72"/>
<circle cx="245.7" cy="306.9" r="1.2" fill="rgb(230,15,30)" fill-opacity="0.72"/>
<circle cx="246.8" cy="318.8" r="1.2" fill="rgb(230,15,30)" fill-opacity="0.72"/>
<circle cx="247.9" cy="307.9" r="1.2" fill="rgb(230,15,30)" fill-opacity="0.72"/>
<circle cx="248.9" cy="318.1" r="1.2" fill="rgb(230,15,30)" fill-opacity="0.72"/>
<circle cx="250.4" cy="310.5" r="1.2" fill="rgb(230,15,30)" fill-opacity="0.72"/>
<circle cx="251.7" cy="318.8" r="1.2" fill="rgb(230,15,30)" fill-opacity="0.72"/>
<circle cx="252.8" cy="318.8" r="1.2" fill="rgb(230,15,30)" fill-opacity="0.72"/>
<circle cx="253.9" cy="318.8" r="1.2" fill="rgb(230,15,30)" fill-opacity="0.72"/>
<circle cx="254.8" cy="307.8" r="1.2" fill="rgb(230,15,30)" fill-opacity="0.72"/>
<circle cx="255.9" cy="309.8" r="1.2" fill="rgb(230,15,30)" fill-opacity="0.72"/>
</svg>
</body></html>
